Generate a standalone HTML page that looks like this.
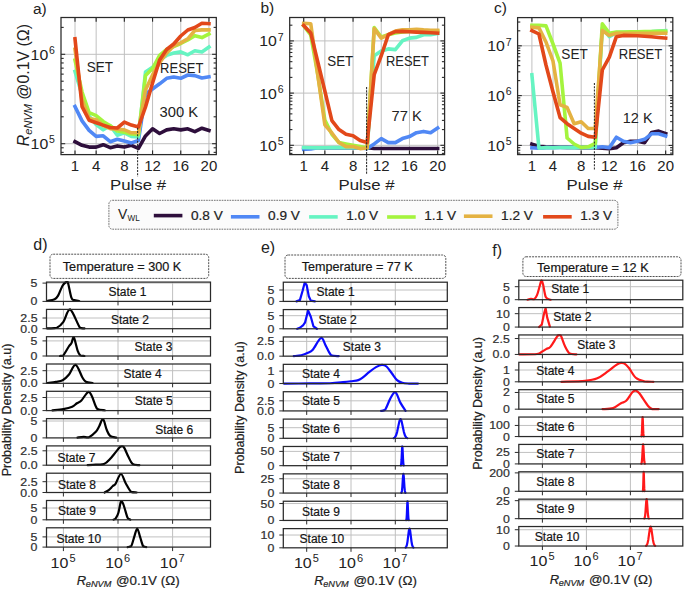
<!DOCTYPE html>
<html><head><meta charset="utf-8"><style>
html,body{margin:0;padding:0;background:#fff;}
svg{display:block;font-family:"Liberation Sans", sans-serif;}
.s{stroke:#222;stroke-width:0.2px;}
</style></head><body>
<svg width="685" height="589" viewBox="0 0 685 589">
<rect x="0" y="0" width="685" height="589" fill="#fff"/>
<g>
<line x1="75.00" y1="17.5" x2="75.00" y2="154.6" stroke="#c0c0c0" stroke-width="1"/>
<line x1="96.15" y1="17.5" x2="96.15" y2="154.6" stroke="#c0c0c0" stroke-width="1"/>
<line x1="124.35" y1="17.5" x2="124.35" y2="154.6" stroke="#c0c0c0" stroke-width="1"/>
<line x1="152.55" y1="17.5" x2="152.55" y2="154.6" stroke="#c0c0c0" stroke-width="1"/>
<line x1="180.75" y1="17.5" x2="180.75" y2="154.6" stroke="#c0c0c0" stroke-width="1"/>
<line x1="208.95" y1="17.5" x2="208.95" y2="154.6" stroke="#c0c0c0" stroke-width="1"/>
<line x1="61.0" y1="143.70" x2="216.3" y2="143.70" stroke="#c0c0c0" stroke-width="1"/>
<line x1="61.0" y1="54.30" x2="216.3" y2="54.30" stroke="#c0c0c0" stroke-width="1"/>
<clipPath id="clipa"><rect x="61.0" y="17.5" width="155.3" height="137.1"/></clipPath>
<g clip-path="url(#clipa)">
<polyline points="75.00,141.70 82.05,145.30 89.10,147.10 96.15,147.10 103.20,144.70 110.25,147.70 117.30,145.90 124.35,147.10 131.40,145.30 138.45,148.30 145.50,135.90 152.55,128.80 159.60,133.50 166.65,129.90 173.70,128.80 180.75,129.90 187.80,128.80 194.85,131.70 201.90,128.20 208.95,130.50" fill="none" stroke="#2e0f3c" stroke-width="3.6" stroke-linejoin="round" stroke-linecap="square"/>
<polyline points="75.00,106.50 82.05,120.90 89.10,130.40 96.15,136.40 103.20,135.80 110.25,141.70 117.30,139.30 124.35,141.10 131.40,142.90 138.45,140.50 145.50,94.00 152.55,89.00 159.60,83.80 166.65,78.30 173.70,77.00 180.75,78.30 187.80,75.00 194.85,75.60 201.90,78.00 208.95,76.80" fill="none" stroke="#5088f5" stroke-width="3.6" stroke-linejoin="round" stroke-linecap="square"/>
<polyline points="75.00,71.40 82.05,95.00 89.10,116.20 96.15,124.50 103.20,129.80 110.25,125.70 117.30,135.20 124.35,132.80 131.40,136.40 138.45,137.00 145.50,72.10 152.55,67.30 159.60,60.00 166.65,55.40 173.70,53.00 180.75,51.90 187.80,54.80 194.85,50.70 201.90,51.90 208.95,47.10" fill="none" stroke="#66f4c2" stroke-width="3.6" stroke-linejoin="round" stroke-linecap="square"/>
<polyline points="75.00,60.10 82.05,92.00 89.10,112.60 96.15,115.60 103.20,121.50 110.25,125.70 117.30,131.00 124.35,132.20 131.40,134.00 138.45,134.60 145.50,75.60 152.55,68.50 159.60,55.40 166.65,49.50 173.70,46.50 180.75,43.50 187.80,40.00 194.85,35.80 201.90,37.60 208.95,34.00" fill="none" stroke="#a4f43e" stroke-width="3.6" stroke-linejoin="round" stroke-linecap="square"/>
<polyline points="75.00,49.40 82.05,100.00 89.10,118.50 96.15,119.70 103.20,125.70 110.25,128.60 117.30,129.20 124.35,129.80 131.40,132.80 138.45,132.80 145.50,90.00 152.55,75.00 159.60,62.60 166.65,53.00 173.70,45.90 180.75,42.90 187.80,38.80 194.85,30.50 201.90,29.90 208.95,29.90" fill="none" stroke="#e4b242" stroke-width="3.6" stroke-linejoin="round" stroke-linecap="square"/>
<polyline points="75.00,38.80 82.05,106.60 89.10,120.30 96.15,122.70 103.20,125.10 110.25,127.50 117.30,128.00 124.35,122.10 131.40,125.10 138.45,126.90 145.50,107.00 152.55,83.00 159.60,60.00 166.65,49.50 173.70,44.00 180.75,36.00 187.80,30.00 194.85,27.50 201.90,23.30 208.95,23.60" fill="none" stroke="#e2481a" stroke-width="3.6" stroke-linejoin="round" stroke-linecap="square"/>
</g>
<line x1="75.00" y1="154.6" x2="75.00" y2="150.4" stroke="#2a2a2a" stroke-width="1.15"/>
<line x1="75.00" y1="17.5" x2="75.00" y2="21.7" stroke="#2a2a2a" stroke-width="1.15"/>
<line x1="96.15" y1="154.6" x2="96.15" y2="150.4" stroke="#2a2a2a" stroke-width="1.15"/>
<line x1="96.15" y1="17.5" x2="96.15" y2="21.7" stroke="#2a2a2a" stroke-width="1.15"/>
<line x1="124.35" y1="154.6" x2="124.35" y2="150.4" stroke="#2a2a2a" stroke-width="1.15"/>
<line x1="124.35" y1="17.5" x2="124.35" y2="21.7" stroke="#2a2a2a" stroke-width="1.15"/>
<line x1="152.55" y1="154.6" x2="152.55" y2="150.4" stroke="#2a2a2a" stroke-width="1.15"/>
<line x1="152.55" y1="17.5" x2="152.55" y2="21.7" stroke="#2a2a2a" stroke-width="1.15"/>
<line x1="180.75" y1="154.6" x2="180.75" y2="150.4" stroke="#2a2a2a" stroke-width="1.15"/>
<line x1="180.75" y1="17.5" x2="180.75" y2="21.7" stroke="#2a2a2a" stroke-width="1.15"/>
<line x1="208.95" y1="154.6" x2="208.95" y2="150.4" stroke="#2a2a2a" stroke-width="1.15"/>
<line x1="208.95" y1="17.5" x2="208.95" y2="21.7" stroke="#2a2a2a" stroke-width="1.15"/>
<line x1="61.0" y1="152.36" x2="63.7" y2="152.36" stroke="#2a2a2a" stroke-width="1.1"/>
<line x1="216.3" y1="152.36" x2="213.60000000000002" y2="152.36" stroke="#2a2a2a" stroke-width="1.1"/>
<line x1="61.0" y1="147.79" x2="63.7" y2="147.79" stroke="#2a2a2a" stroke-width="1.1"/>
<line x1="216.3" y1="147.79" x2="213.60000000000002" y2="147.79" stroke="#2a2a2a" stroke-width="1.1"/>
<line x1="61.0" y1="143.70" x2="65.2" y2="143.70" stroke="#2a2a2a" stroke-width="1.1"/>
<line x1="216.3" y1="143.70" x2="212.10000000000002" y2="143.70" stroke="#2a2a2a" stroke-width="1.1"/>
<line x1="61.0" y1="116.79" x2="63.7" y2="116.79" stroke="#2a2a2a" stroke-width="1.1"/>
<line x1="216.3" y1="116.79" x2="213.60000000000002" y2="116.79" stroke="#2a2a2a" stroke-width="1.1"/>
<line x1="61.0" y1="101.05" x2="63.7" y2="101.05" stroke="#2a2a2a" stroke-width="1.1"/>
<line x1="216.3" y1="101.05" x2="213.60000000000002" y2="101.05" stroke="#2a2a2a" stroke-width="1.1"/>
<line x1="61.0" y1="89.88" x2="63.7" y2="89.88" stroke="#2a2a2a" stroke-width="1.1"/>
<line x1="216.3" y1="89.88" x2="213.60000000000002" y2="89.88" stroke="#2a2a2a" stroke-width="1.1"/>
<line x1="61.0" y1="81.21" x2="63.7" y2="81.21" stroke="#2a2a2a" stroke-width="1.1"/>
<line x1="216.3" y1="81.21" x2="213.60000000000002" y2="81.21" stroke="#2a2a2a" stroke-width="1.1"/>
<line x1="61.0" y1="74.13" x2="63.7" y2="74.13" stroke="#2a2a2a" stroke-width="1.1"/>
<line x1="216.3" y1="74.13" x2="213.60000000000002" y2="74.13" stroke="#2a2a2a" stroke-width="1.1"/>
<line x1="61.0" y1="68.15" x2="63.7" y2="68.15" stroke="#2a2a2a" stroke-width="1.1"/>
<line x1="216.3" y1="68.15" x2="213.60000000000002" y2="68.15" stroke="#2a2a2a" stroke-width="1.1"/>
<line x1="61.0" y1="62.96" x2="63.7" y2="62.96" stroke="#2a2a2a" stroke-width="1.1"/>
<line x1="216.3" y1="62.96" x2="213.60000000000002" y2="62.96" stroke="#2a2a2a" stroke-width="1.1"/>
<line x1="61.0" y1="58.39" x2="63.7" y2="58.39" stroke="#2a2a2a" stroke-width="1.1"/>
<line x1="216.3" y1="58.39" x2="213.60000000000002" y2="58.39" stroke="#2a2a2a" stroke-width="1.1"/>
<line x1="61.0" y1="54.30" x2="65.2" y2="54.30" stroke="#2a2a2a" stroke-width="1.1"/>
<line x1="216.3" y1="54.30" x2="212.10000000000002" y2="54.30" stroke="#2a2a2a" stroke-width="1.1"/>
<line x1="61.0" y1="27.39" x2="63.7" y2="27.39" stroke="#2a2a2a" stroke-width="1.1"/>
<line x1="216.3" y1="27.39" x2="213.60000000000002" y2="27.39" stroke="#2a2a2a" stroke-width="1.1"/>
<rect x="61.0" y="17.5" width="155.30" height="137.10" fill="none" stroke="#2a2a2a" stroke-width="1.25"/>
<text x="75.00" y="171.00" font-size="15" text-anchor="middle" fill="#222" >1</text>
<text x="96.15" y="171.00" font-size="15" text-anchor="middle" fill="#222" >4</text>
<text x="124.35" y="171.00" font-size="15" text-anchor="middle" fill="#222" >8</text>
<text x="152.55" y="171.00" font-size="15" text-anchor="middle" fill="#222" >12</text>
<text x="180.75" y="171.00" font-size="15" text-anchor="middle" fill="#222" >16</text>
<text x="208.95" y="171.00" font-size="15" text-anchor="middle" fill="#222" >20</text>
<text x="30.60" y="149.20" font-size="15" fill="#222"><tspan textLength="17.6" lengthAdjust="spacingAndGlyphs">10</tspan><tspan font-size="10.5" dx="0.9" dy="-5.8">5</tspan></text>
<text x="30.60" y="59.80" font-size="15" fill="#222"><tspan textLength="17.6" lengthAdjust="spacingAndGlyphs">10</tspan><tspan font-size="10.5" dx="0.9" dy="-5.8">6</tspan></text>
<text x="138.05" y="190.30" font-size="15" text-anchor="middle" fill="#222" textLength="56" lengthAdjust="spacingAndGlyphs">Pulse #</text>
</g>
<g>
<line x1="303.70" y1="17.5" x2="303.70" y2="154.6" stroke="#c0c0c0" stroke-width="1"/>
<line x1="324.85" y1="17.5" x2="324.85" y2="154.6" stroke="#c0c0c0" stroke-width="1"/>
<line x1="353.05" y1="17.5" x2="353.05" y2="154.6" stroke="#c0c0c0" stroke-width="1"/>
<line x1="381.25" y1="17.5" x2="381.25" y2="154.6" stroke="#c0c0c0" stroke-width="1"/>
<line x1="409.45" y1="17.5" x2="409.45" y2="154.6" stroke="#c0c0c0" stroke-width="1"/>
<line x1="437.65" y1="17.5" x2="437.65" y2="154.6" stroke="#c0c0c0" stroke-width="1"/>
<line x1="289.7" y1="145.30" x2="444.6" y2="145.30" stroke="#c0c0c0" stroke-width="1"/>
<line x1="289.7" y1="93.10" x2="444.6" y2="93.10" stroke="#c0c0c0" stroke-width="1"/>
<line x1="289.7" y1="40.90" x2="444.6" y2="40.90" stroke="#c0c0c0" stroke-width="1"/>
<clipPath id="clipb"><rect x="289.7" y="17.5" width="154.90000000000003" height="137.1"/></clipPath>
<g clip-path="url(#clipb)">
<polyline points="303.70,147.70 310.75,147.70 317.80,147.70 324.85,147.70 331.90,147.70 338.95,147.70 346.00,147.70 353.05,147.70 360.10,147.70 367.15,147.70 374.20,148.50 381.25,148.50 388.30,148.50 395.35,148.50 402.40,148.50 409.45,148.50 416.50,148.50 423.55,148.50 430.60,148.50 437.65,148.50" fill="none" stroke="#2e0f3c" stroke-width="3.6" stroke-linejoin="round" stroke-linecap="square"/>
<polyline points="303.70,149.40 310.75,149.00 317.80,147.80 324.85,147.80 331.90,147.80 338.95,147.80 346.00,147.80 353.05,147.80 360.10,147.80 367.15,148.60 374.20,143.90 381.25,138.60 388.30,142.60 395.35,142.60 402.40,138.60 409.45,136.60 416.50,132.70 423.55,131.40 430.60,132.70 437.65,128.10" fill="none" stroke="#5088f5" stroke-width="3.6" stroke-linejoin="round" stroke-linecap="square"/>
<polyline points="303.70,147.50 310.75,147.70 317.80,147.90 324.85,147.70 331.90,147.50 338.95,147.60 346.00,147.70 353.05,147.80 360.10,147.70 367.15,147.90 374.20,55.70 381.25,51.00 388.30,48.90 395.35,49.60 402.40,40.80 409.45,38.10 416.50,37.40 423.55,34.70 430.60,34.80 437.65,33.60" fill="none" stroke="#66f4c2" stroke-width="3.6" stroke-linejoin="round" stroke-linecap="square"/>
<polyline points="303.70,25.90 310.75,35.00 317.80,75.00 324.85,120.00 331.90,134.30 338.95,142.50 346.00,143.90 353.05,145.20 360.10,146.60 367.15,148.00 374.20,27.60 381.25,37.00 388.30,34.70 395.35,33.00 402.40,32.00 409.45,31.50 416.50,31.30 423.55,31.00 430.60,31.00 437.65,31.00" fill="none" stroke="#a4f43e" stroke-width="3.6" stroke-linejoin="round" stroke-linecap="square"/>
<polyline points="303.70,23.40 310.75,23.70 317.80,75.00 324.85,124.80 331.90,133.00 338.95,142.50 346.00,146.60 353.05,146.60 360.10,148.60 367.15,148.00 374.20,28.60 381.25,38.10 388.30,34.70 395.35,31.00 402.40,29.90 409.45,29.70 416.50,29.20 423.55,29.90 430.60,30.20 437.65,30.20" fill="none" stroke="#e4b242" stroke-width="3.6" stroke-linejoin="round" stroke-linecap="square"/>
<polyline points="303.70,25.60 310.75,33.00 317.80,62.00 324.85,91.00 331.90,120.70 338.95,129.60 346.00,134.30 353.05,135.70 360.10,140.50 367.15,142.50 374.20,74.70 381.25,55.70 388.30,34.70 395.35,31.60 402.40,31.40 409.45,31.70 416.50,32.10 423.55,32.40 430.60,32.70 437.65,33.10" fill="none" stroke="#e2481a" stroke-width="3.6" stroke-linejoin="round" stroke-linecap="square"/>
</g>
<line x1="303.70" y1="154.6" x2="303.70" y2="150.4" stroke="#2a2a2a" stroke-width="1.15"/>
<line x1="303.70" y1="17.5" x2="303.70" y2="21.7" stroke="#2a2a2a" stroke-width="1.15"/>
<line x1="324.85" y1="154.6" x2="324.85" y2="150.4" stroke="#2a2a2a" stroke-width="1.15"/>
<line x1="324.85" y1="17.5" x2="324.85" y2="21.7" stroke="#2a2a2a" stroke-width="1.15"/>
<line x1="353.05" y1="154.6" x2="353.05" y2="150.4" stroke="#2a2a2a" stroke-width="1.15"/>
<line x1="353.05" y1="17.5" x2="353.05" y2="21.7" stroke="#2a2a2a" stroke-width="1.15"/>
<line x1="381.25" y1="154.6" x2="381.25" y2="150.4" stroke="#2a2a2a" stroke-width="1.15"/>
<line x1="381.25" y1="17.5" x2="381.25" y2="21.7" stroke="#2a2a2a" stroke-width="1.15"/>
<line x1="409.45" y1="154.6" x2="409.45" y2="150.4" stroke="#2a2a2a" stroke-width="1.15"/>
<line x1="409.45" y1="17.5" x2="409.45" y2="21.7" stroke="#2a2a2a" stroke-width="1.15"/>
<line x1="437.65" y1="154.6" x2="437.65" y2="150.4" stroke="#2a2a2a" stroke-width="1.15"/>
<line x1="437.65" y1="17.5" x2="437.65" y2="21.7" stroke="#2a2a2a" stroke-width="1.15"/>
<line x1="289.7" y1="153.39" x2="292.4" y2="153.39" stroke="#2a2a2a" stroke-width="1.1"/>
<line x1="444.6" y1="153.39" x2="441.90000000000003" y2="153.39" stroke="#2a2a2a" stroke-width="1.1"/>
<line x1="289.7" y1="150.36" x2="292.4" y2="150.36" stroke="#2a2a2a" stroke-width="1.1"/>
<line x1="444.6" y1="150.36" x2="441.90000000000003" y2="150.36" stroke="#2a2a2a" stroke-width="1.1"/>
<line x1="289.7" y1="147.69" x2="292.4" y2="147.69" stroke="#2a2a2a" stroke-width="1.1"/>
<line x1="444.6" y1="147.69" x2="441.90000000000003" y2="147.69" stroke="#2a2a2a" stroke-width="1.1"/>
<line x1="289.7" y1="145.30" x2="293.9" y2="145.30" stroke="#2a2a2a" stroke-width="1.1"/>
<line x1="444.6" y1="145.30" x2="440.40000000000003" y2="145.30" stroke="#2a2a2a" stroke-width="1.1"/>
<line x1="289.7" y1="129.59" x2="292.4" y2="129.59" stroke="#2a2a2a" stroke-width="1.1"/>
<line x1="444.6" y1="129.59" x2="441.90000000000003" y2="129.59" stroke="#2a2a2a" stroke-width="1.1"/>
<line x1="289.7" y1="120.39" x2="292.4" y2="120.39" stroke="#2a2a2a" stroke-width="1.1"/>
<line x1="444.6" y1="120.39" x2="441.90000000000003" y2="120.39" stroke="#2a2a2a" stroke-width="1.1"/>
<line x1="289.7" y1="113.87" x2="292.4" y2="113.87" stroke="#2a2a2a" stroke-width="1.1"/>
<line x1="444.6" y1="113.87" x2="441.90000000000003" y2="113.87" stroke="#2a2a2a" stroke-width="1.1"/>
<line x1="289.7" y1="108.81" x2="292.4" y2="108.81" stroke="#2a2a2a" stroke-width="1.1"/>
<line x1="444.6" y1="108.81" x2="441.90000000000003" y2="108.81" stroke="#2a2a2a" stroke-width="1.1"/>
<line x1="289.7" y1="104.68" x2="292.4" y2="104.68" stroke="#2a2a2a" stroke-width="1.1"/>
<line x1="444.6" y1="104.68" x2="441.90000000000003" y2="104.68" stroke="#2a2a2a" stroke-width="1.1"/>
<line x1="289.7" y1="101.19" x2="292.4" y2="101.19" stroke="#2a2a2a" stroke-width="1.1"/>
<line x1="444.6" y1="101.19" x2="441.90000000000003" y2="101.19" stroke="#2a2a2a" stroke-width="1.1"/>
<line x1="289.7" y1="98.16" x2="292.4" y2="98.16" stroke="#2a2a2a" stroke-width="1.1"/>
<line x1="444.6" y1="98.16" x2="441.90000000000003" y2="98.16" stroke="#2a2a2a" stroke-width="1.1"/>
<line x1="289.7" y1="95.49" x2="292.4" y2="95.49" stroke="#2a2a2a" stroke-width="1.1"/>
<line x1="444.6" y1="95.49" x2="441.90000000000003" y2="95.49" stroke="#2a2a2a" stroke-width="1.1"/>
<line x1="289.7" y1="93.10" x2="293.9" y2="93.10" stroke="#2a2a2a" stroke-width="1.1"/>
<line x1="444.6" y1="93.10" x2="440.40000000000003" y2="93.10" stroke="#2a2a2a" stroke-width="1.1"/>
<line x1="289.7" y1="77.39" x2="292.4" y2="77.39" stroke="#2a2a2a" stroke-width="1.1"/>
<line x1="444.6" y1="77.39" x2="441.90000000000003" y2="77.39" stroke="#2a2a2a" stroke-width="1.1"/>
<line x1="289.7" y1="68.19" x2="292.4" y2="68.19" stroke="#2a2a2a" stroke-width="1.1"/>
<line x1="444.6" y1="68.19" x2="441.90000000000003" y2="68.19" stroke="#2a2a2a" stroke-width="1.1"/>
<line x1="289.7" y1="61.67" x2="292.4" y2="61.67" stroke="#2a2a2a" stroke-width="1.1"/>
<line x1="444.6" y1="61.67" x2="441.90000000000003" y2="61.67" stroke="#2a2a2a" stroke-width="1.1"/>
<line x1="289.7" y1="56.61" x2="292.4" y2="56.61" stroke="#2a2a2a" stroke-width="1.1"/>
<line x1="444.6" y1="56.61" x2="441.90000000000003" y2="56.61" stroke="#2a2a2a" stroke-width="1.1"/>
<line x1="289.7" y1="52.48" x2="292.4" y2="52.48" stroke="#2a2a2a" stroke-width="1.1"/>
<line x1="444.6" y1="52.48" x2="441.90000000000003" y2="52.48" stroke="#2a2a2a" stroke-width="1.1"/>
<line x1="289.7" y1="48.99" x2="292.4" y2="48.99" stroke="#2a2a2a" stroke-width="1.1"/>
<line x1="444.6" y1="48.99" x2="441.90000000000003" y2="48.99" stroke="#2a2a2a" stroke-width="1.1"/>
<line x1="289.7" y1="45.96" x2="292.4" y2="45.96" stroke="#2a2a2a" stroke-width="1.1"/>
<line x1="444.6" y1="45.96" x2="441.90000000000003" y2="45.96" stroke="#2a2a2a" stroke-width="1.1"/>
<line x1="289.7" y1="43.29" x2="292.4" y2="43.29" stroke="#2a2a2a" stroke-width="1.1"/>
<line x1="444.6" y1="43.29" x2="441.90000000000003" y2="43.29" stroke="#2a2a2a" stroke-width="1.1"/>
<line x1="289.7" y1="40.90" x2="293.9" y2="40.90" stroke="#2a2a2a" stroke-width="1.1"/>
<line x1="444.6" y1="40.90" x2="440.40000000000003" y2="40.90" stroke="#2a2a2a" stroke-width="1.1"/>
<line x1="289.7" y1="25.19" x2="292.4" y2="25.19" stroke="#2a2a2a" stroke-width="1.1"/>
<line x1="444.6" y1="25.19" x2="441.90000000000003" y2="25.19" stroke="#2a2a2a" stroke-width="1.1"/>
<rect x="289.7" y="17.5" width="154.90" height="137.10" fill="none" stroke="#2a2a2a" stroke-width="1.25"/>
<text x="303.70" y="171.00" font-size="15" text-anchor="middle" fill="#222" >1</text>
<text x="324.85" y="171.00" font-size="15" text-anchor="middle" fill="#222" >4</text>
<text x="353.05" y="171.00" font-size="15" text-anchor="middle" fill="#222" >8</text>
<text x="381.25" y="171.00" font-size="15" text-anchor="middle" fill="#222" >12</text>
<text x="409.45" y="171.00" font-size="15" text-anchor="middle" fill="#222" >16</text>
<text x="437.65" y="171.00" font-size="15" text-anchor="middle" fill="#222" >20</text>
<text x="259.30" y="150.80" font-size="15" fill="#222"><tspan textLength="17.6" lengthAdjust="spacingAndGlyphs">10</tspan><tspan font-size="10.5" dx="0.9" dy="-5.8">5</tspan></text>
<text x="259.30" y="98.60" font-size="15" fill="#222"><tspan textLength="17.6" lengthAdjust="spacingAndGlyphs">10</tspan><tspan font-size="10.5" dx="0.9" dy="-5.8">6</tspan></text>
<text x="259.30" y="46.40" font-size="15" fill="#222"><tspan textLength="17.6" lengthAdjust="spacingAndGlyphs">10</tspan><tspan font-size="10.5" dx="0.9" dy="-5.8">7</tspan></text>
<text x="366.55" y="190.30" font-size="15" text-anchor="middle" fill="#222" textLength="56" lengthAdjust="spacingAndGlyphs">Pulse #</text>
</g>
<g>
<line x1="531.90" y1="17.6" x2="531.90" y2="154.6" stroke="#c0c0c0" stroke-width="1"/>
<line x1="553.02" y1="17.6" x2="553.02" y2="154.6" stroke="#c0c0c0" stroke-width="1"/>
<line x1="581.18" y1="17.6" x2="581.18" y2="154.6" stroke="#c0c0c0" stroke-width="1"/>
<line x1="609.34" y1="17.6" x2="609.34" y2="154.6" stroke="#c0c0c0" stroke-width="1"/>
<line x1="637.50" y1="17.6" x2="637.50" y2="154.6" stroke="#c0c0c0" stroke-width="1"/>
<line x1="665.66" y1="17.6" x2="665.66" y2="154.6" stroke="#c0c0c0" stroke-width="1"/>
<line x1="517.6" y1="145.40" x2="672.8" y2="145.40" stroke="#c0c0c0" stroke-width="1"/>
<line x1="517.6" y1="95.60" x2="672.8" y2="95.60" stroke="#c0c0c0" stroke-width="1"/>
<line x1="517.6" y1="45.80" x2="672.8" y2="45.80" stroke="#c0c0c0" stroke-width="1"/>
<clipPath id="clipc"><rect x="517.6" y="17.6" width="155.19999999999993" height="137.0"/></clipPath>
<g clip-path="url(#clipc)">
<polyline points="531.90,144.10 538.94,146.20 545.98,146.90 553.02,147.00 560.06,147.20 567.10,147.40 574.14,147.50 581.18,147.60 588.22,147.60 595.26,147.60 602.30,148.10 609.34,148.80 616.38,147.70 623.42,142.70 630.46,141.30 637.50,141.30 644.54,142.70 651.58,132.50 658.62,131.10 665.66,133.60" fill="none" stroke="#2e0f3c" stroke-width="3.6" stroke-linejoin="round" stroke-linecap="square"/>
<polyline points="531.90,147.80 538.94,148.30 545.98,147.60 553.02,147.60 560.06,147.50 567.10,147.50 574.14,147.50 581.18,147.50 588.22,147.50 595.26,147.50 602.30,146.70 609.34,147.70 616.38,137.20 623.42,141.30 630.46,142.70 637.50,141.30 644.54,139.30 651.58,133.80 658.62,133.80 665.66,135.90" fill="none" stroke="#5088f5" stroke-width="3.6" stroke-linejoin="round" stroke-linecap="square"/>
<polyline points="531.90,74.80 538.94,148.20 545.98,147.50 553.02,147.80 560.06,147.50 567.10,147.50 574.14,147.60 581.18,147.50 588.22,147.50 595.26,147.50 602.30,28.00 609.34,36.70 616.38,32.60 623.42,32.40 630.46,32.20 637.50,32.00 644.54,31.80 651.58,31.50 658.62,31.00 665.66,30.60" fill="none" stroke="#66f4c2" stroke-width="3.6" stroke-linejoin="round" stroke-linecap="square"/>
<polyline points="531.90,25.20 538.94,25.20 545.98,25.90 553.02,44.00 560.06,63.20 567.10,138.00 574.14,144.00 581.18,147.50 588.22,146.80 595.26,143.40 602.30,23.80 609.34,33.30 616.38,32.00 623.42,32.00 630.46,31.80 637.50,31.70 644.54,31.60 651.58,31.50 658.62,31.40 665.66,31.30" fill="none" stroke="#a4f43e" stroke-width="3.6" stroke-linejoin="round" stroke-linecap="square"/>
<polyline points="531.90,27.20 538.94,27.90 545.98,42.00 553.02,61.20 560.06,104.70 567.10,107.40 574.14,123.70 581.18,121.70 588.22,128.50 595.26,128.50 602.30,30.60 609.34,35.40 616.38,33.30 623.42,33.30 630.46,33.30 637.50,33.30 644.54,33.30 651.58,33.30 658.62,33.30 665.66,33.30" fill="none" stroke="#e4b242" stroke-width="3.6" stroke-linejoin="round" stroke-linecap="square"/>
<polyline points="531.90,30.60 538.94,34.00 545.98,65.00 553.02,92.00 560.06,117.60 567.10,123.70 574.14,128.50 581.18,133.20 588.22,136.40 595.26,137.30 602.30,70.00 609.34,57.10 616.38,36.70 623.42,35.40 630.46,35.60 637.50,35.80 644.54,36.20 651.58,36.80 658.62,37.50 665.66,38.10" fill="none" stroke="#e2481a" stroke-width="3.6" stroke-linejoin="round" stroke-linecap="square"/>
</g>
<line x1="531.90" y1="154.6" x2="531.90" y2="150.4" stroke="#2a2a2a" stroke-width="1.15"/>
<line x1="531.90" y1="17.6" x2="531.90" y2="21.8" stroke="#2a2a2a" stroke-width="1.15"/>
<line x1="553.02" y1="154.6" x2="553.02" y2="150.4" stroke="#2a2a2a" stroke-width="1.15"/>
<line x1="553.02" y1="17.6" x2="553.02" y2="21.8" stroke="#2a2a2a" stroke-width="1.15"/>
<line x1="581.18" y1="154.6" x2="581.18" y2="150.4" stroke="#2a2a2a" stroke-width="1.15"/>
<line x1="581.18" y1="17.6" x2="581.18" y2="21.8" stroke="#2a2a2a" stroke-width="1.15"/>
<line x1="609.34" y1="154.6" x2="609.34" y2="150.4" stroke="#2a2a2a" stroke-width="1.15"/>
<line x1="609.34" y1="17.6" x2="609.34" y2="21.8" stroke="#2a2a2a" stroke-width="1.15"/>
<line x1="637.50" y1="154.6" x2="637.50" y2="150.4" stroke="#2a2a2a" stroke-width="1.15"/>
<line x1="637.50" y1="17.6" x2="637.50" y2="21.8" stroke="#2a2a2a" stroke-width="1.15"/>
<line x1="665.66" y1="154.6" x2="665.66" y2="150.4" stroke="#2a2a2a" stroke-width="1.15"/>
<line x1="665.66" y1="17.6" x2="665.66" y2="21.8" stroke="#2a2a2a" stroke-width="1.15"/>
<line x1="517.6" y1="153.11" x2="520.3000000000001" y2="153.11" stroke="#2a2a2a" stroke-width="1.1"/>
<line x1="672.8" y1="153.11" x2="670.0999999999999" y2="153.11" stroke="#2a2a2a" stroke-width="1.1"/>
<line x1="517.6" y1="150.23" x2="520.3000000000001" y2="150.23" stroke="#2a2a2a" stroke-width="1.1"/>
<line x1="672.8" y1="150.23" x2="670.0999999999999" y2="150.23" stroke="#2a2a2a" stroke-width="1.1"/>
<line x1="517.6" y1="147.68" x2="520.3000000000001" y2="147.68" stroke="#2a2a2a" stroke-width="1.1"/>
<line x1="672.8" y1="147.68" x2="670.0999999999999" y2="147.68" stroke="#2a2a2a" stroke-width="1.1"/>
<line x1="517.6" y1="145.40" x2="521.8000000000001" y2="145.40" stroke="#2a2a2a" stroke-width="1.1"/>
<line x1="672.8" y1="145.40" x2="668.5999999999999" y2="145.40" stroke="#2a2a2a" stroke-width="1.1"/>
<line x1="517.6" y1="130.41" x2="520.3000000000001" y2="130.41" stroke="#2a2a2a" stroke-width="1.1"/>
<line x1="672.8" y1="130.41" x2="670.0999999999999" y2="130.41" stroke="#2a2a2a" stroke-width="1.1"/>
<line x1="517.6" y1="121.64" x2="520.3000000000001" y2="121.64" stroke="#2a2a2a" stroke-width="1.1"/>
<line x1="672.8" y1="121.64" x2="670.0999999999999" y2="121.64" stroke="#2a2a2a" stroke-width="1.1"/>
<line x1="517.6" y1="115.42" x2="520.3000000000001" y2="115.42" stroke="#2a2a2a" stroke-width="1.1"/>
<line x1="672.8" y1="115.42" x2="670.0999999999999" y2="115.42" stroke="#2a2a2a" stroke-width="1.1"/>
<line x1="517.6" y1="110.59" x2="520.3000000000001" y2="110.59" stroke="#2a2a2a" stroke-width="1.1"/>
<line x1="672.8" y1="110.59" x2="670.0999999999999" y2="110.59" stroke="#2a2a2a" stroke-width="1.1"/>
<line x1="517.6" y1="106.65" x2="520.3000000000001" y2="106.65" stroke="#2a2a2a" stroke-width="1.1"/>
<line x1="672.8" y1="106.65" x2="670.0999999999999" y2="106.65" stroke="#2a2a2a" stroke-width="1.1"/>
<line x1="517.6" y1="103.31" x2="520.3000000000001" y2="103.31" stroke="#2a2a2a" stroke-width="1.1"/>
<line x1="672.8" y1="103.31" x2="670.0999999999999" y2="103.31" stroke="#2a2a2a" stroke-width="1.1"/>
<line x1="517.6" y1="100.43" x2="520.3000000000001" y2="100.43" stroke="#2a2a2a" stroke-width="1.1"/>
<line x1="672.8" y1="100.43" x2="670.0999999999999" y2="100.43" stroke="#2a2a2a" stroke-width="1.1"/>
<line x1="517.6" y1="97.88" x2="520.3000000000001" y2="97.88" stroke="#2a2a2a" stroke-width="1.1"/>
<line x1="672.8" y1="97.88" x2="670.0999999999999" y2="97.88" stroke="#2a2a2a" stroke-width="1.1"/>
<line x1="517.6" y1="95.60" x2="521.8000000000001" y2="95.60" stroke="#2a2a2a" stroke-width="1.1"/>
<line x1="672.8" y1="95.60" x2="668.5999999999999" y2="95.60" stroke="#2a2a2a" stroke-width="1.1"/>
<line x1="517.6" y1="80.61" x2="520.3000000000001" y2="80.61" stroke="#2a2a2a" stroke-width="1.1"/>
<line x1="672.8" y1="80.61" x2="670.0999999999999" y2="80.61" stroke="#2a2a2a" stroke-width="1.1"/>
<line x1="517.6" y1="71.84" x2="520.3000000000001" y2="71.84" stroke="#2a2a2a" stroke-width="1.1"/>
<line x1="672.8" y1="71.84" x2="670.0999999999999" y2="71.84" stroke="#2a2a2a" stroke-width="1.1"/>
<line x1="517.6" y1="65.62" x2="520.3000000000001" y2="65.62" stroke="#2a2a2a" stroke-width="1.1"/>
<line x1="672.8" y1="65.62" x2="670.0999999999999" y2="65.62" stroke="#2a2a2a" stroke-width="1.1"/>
<line x1="517.6" y1="60.79" x2="520.3000000000001" y2="60.79" stroke="#2a2a2a" stroke-width="1.1"/>
<line x1="672.8" y1="60.79" x2="670.0999999999999" y2="60.79" stroke="#2a2a2a" stroke-width="1.1"/>
<line x1="517.6" y1="56.85" x2="520.3000000000001" y2="56.85" stroke="#2a2a2a" stroke-width="1.1"/>
<line x1="672.8" y1="56.85" x2="670.0999999999999" y2="56.85" stroke="#2a2a2a" stroke-width="1.1"/>
<line x1="517.6" y1="53.51" x2="520.3000000000001" y2="53.51" stroke="#2a2a2a" stroke-width="1.1"/>
<line x1="672.8" y1="53.51" x2="670.0999999999999" y2="53.51" stroke="#2a2a2a" stroke-width="1.1"/>
<line x1="517.6" y1="50.63" x2="520.3000000000001" y2="50.63" stroke="#2a2a2a" stroke-width="1.1"/>
<line x1="672.8" y1="50.63" x2="670.0999999999999" y2="50.63" stroke="#2a2a2a" stroke-width="1.1"/>
<line x1="517.6" y1="48.08" x2="520.3000000000001" y2="48.08" stroke="#2a2a2a" stroke-width="1.1"/>
<line x1="672.8" y1="48.08" x2="670.0999999999999" y2="48.08" stroke="#2a2a2a" stroke-width="1.1"/>
<line x1="517.6" y1="45.80" x2="521.8000000000001" y2="45.80" stroke="#2a2a2a" stroke-width="1.1"/>
<line x1="672.8" y1="45.80" x2="668.5999999999999" y2="45.80" stroke="#2a2a2a" stroke-width="1.1"/>
<line x1="517.6" y1="30.81" x2="520.3000000000001" y2="30.81" stroke="#2a2a2a" stroke-width="1.1"/>
<line x1="672.8" y1="30.81" x2="670.0999999999999" y2="30.81" stroke="#2a2a2a" stroke-width="1.1"/>
<line x1="517.6" y1="22.04" x2="520.3000000000001" y2="22.04" stroke="#2a2a2a" stroke-width="1.1"/>
<line x1="672.8" y1="22.04" x2="670.0999999999999" y2="22.04" stroke="#2a2a2a" stroke-width="1.1"/>
<rect x="517.6" y="17.6" width="155.20" height="137.00" fill="none" stroke="#2a2a2a" stroke-width="1.25"/>
<text x="531.90" y="171.00" font-size="15" text-anchor="middle" fill="#222" >1</text>
<text x="553.02" y="171.00" font-size="15" text-anchor="middle" fill="#222" >4</text>
<text x="581.18" y="171.00" font-size="15" text-anchor="middle" fill="#222" >8</text>
<text x="609.34" y="171.00" font-size="15" text-anchor="middle" fill="#222" >12</text>
<text x="637.50" y="171.00" font-size="15" text-anchor="middle" fill="#222" >16</text>
<text x="665.66" y="171.00" font-size="15" text-anchor="middle" fill="#222" >20</text>
<text x="487.20" y="150.90" font-size="15" fill="#222"><tspan textLength="17.6" lengthAdjust="spacingAndGlyphs">10</tspan><tspan font-size="10.5" dx="0.9" dy="-5.8">5</tspan></text>
<text x="487.20" y="101.10" font-size="15" fill="#222"><tspan textLength="17.6" lengthAdjust="spacingAndGlyphs">10</tspan><tspan font-size="10.5" dx="0.9" dy="-5.8">6</tspan></text>
<text x="487.20" y="51.30" font-size="15" fill="#222"><tspan textLength="17.6" lengthAdjust="spacingAndGlyphs">10</tspan><tspan font-size="10.5" dx="0.9" dy="-5.8">7</tspan></text>
<text x="594.60" y="190.30" font-size="15" text-anchor="middle" fill="#222" textLength="56" lengthAdjust="spacingAndGlyphs">Pulse #</text>
</g>
<line x1="137.6" y1="127.7" x2="137.6" y2="176.7" stroke="#2a2a2a" stroke-width="1.05" stroke-dasharray="2.1,1.15"/>
<line x1="366.6" y1="87.1" x2="366.6" y2="174.1" stroke="#2a2a2a" stroke-width="1.05" stroke-dasharray="2.1,1.15"/>
<line x1="594.4" y1="83.0" x2="594.4" y2="170.5" stroke="#2a2a2a" stroke-width="1.05" stroke-dasharray="2.1,1.15"/>
<text x="86.70" y="72.00" font-size="15.5" text-anchor="start" fill="#222" textLength="26.3" lengthAdjust="spacingAndGlyphs">SET</text>
<text x="160.10" y="72.70" font-size="15.5" text-anchor="start" fill="#222" textLength="43.3" lengthAdjust="spacingAndGlyphs">RESET</text>
<text x="159.60" y="116.70" font-size="15" text-anchor="start" fill="#222" textLength="38.6" lengthAdjust="spacingAndGlyphs">300 K</text>
<text x="327.30" y="65.50" font-size="15.5" text-anchor="start" fill="#222" textLength="26" lengthAdjust="spacingAndGlyphs">SET</text>
<text x="386.00" y="66.30" font-size="15.5" text-anchor="start" fill="#222" textLength="43" lengthAdjust="spacingAndGlyphs">RESET</text>
<text x="391.60" y="120.90" font-size="15" text-anchor="start" fill="#222" textLength="30.3" lengthAdjust="spacingAndGlyphs">77 K</text>
<text x="561.30" y="58.80" font-size="15.5" text-anchor="start" fill="#222" textLength="26.5" lengthAdjust="spacingAndGlyphs">SET</text>
<text x="618.70" y="58.70" font-size="15.5" text-anchor="start" fill="#222" textLength="43.6" lengthAdjust="spacingAndGlyphs">RESET</text>
<text x="622.80" y="122.70" font-size="15" text-anchor="start" fill="#222" textLength="29.8" lengthAdjust="spacingAndGlyphs">12 K</text>
<text x="33.00" y="14.30" font-size="15.5" text-anchor="start" fill="#222" >a)</text>
<text x="260.50" y="12.80" font-size="15.5" text-anchor="start" fill="#222" >b)</text>
<text x="494.00" y="12.80" font-size="15.5" text-anchor="start" fill="#222" >c)</text>
<text transform="translate(29.0,85.1) rotate(-90)" font-size="15.9" text-anchor="middle" fill="#222"><tspan font-style="italic">R</tspan><tspan font-style="italic" font-size="11" dy="3">eNVM</tspan><tspan dy="-3"> @0.1V (Ω)</tspan></text>
<rect x="108.9" y="200.3" width="509.0" height="28.9" rx="3.6" ry="3.6" fill="#fbfbfb" stroke="#6a6a6a" stroke-width="0.95" stroke-dasharray="1.7,0.9"/>
<text x="118" y="219.4" font-size="14.5" fill="#222"><tspan textLength="9.3" lengthAdjust="spacingAndGlyphs">V</tspan><tspan font-size="9.6" dx="0.2" dy="1.6" textLength="12.2" lengthAdjust="spacingAndGlyphs">WL</tspan></text>
<line x1="153.8" y1="215.6" x2="182.4" y2="215.6" stroke="#2e0f3c" stroke-width="3.6"/>
<text class="s" x="191.00" y="219.90" font-size="12.6" text-anchor="start" fill="#222" textLength="31.8" lengthAdjust="spacingAndGlyphs">0.8 V</text>
<line x1="230.9" y1="216.8" x2="259.5" y2="216.8" stroke="#5088f5" stroke-width="3.6"/>
<text class="s" x="268.10" y="219.90" font-size="12.6" text-anchor="start" fill="#222" textLength="31.8" lengthAdjust="spacingAndGlyphs">0.9 V</text>
<line x1="309.1" y1="216.9" x2="337.70000000000005" y2="216.9" stroke="#66f4c2" stroke-width="3.6"/>
<text class="s" x="346.30" y="219.90" font-size="12.6" text-anchor="start" fill="#222" textLength="31.8" lengthAdjust="spacingAndGlyphs">1.0 V</text>
<line x1="387.1" y1="217.0" x2="415.70000000000005" y2="217.0" stroke="#a4f43e" stroke-width="3.6"/>
<text class="s" x="424.30" y="219.90" font-size="12.6" text-anchor="start" fill="#222" textLength="31.8" lengthAdjust="spacingAndGlyphs">1.1 V</text>
<line x1="463.9" y1="216.2" x2="492.5" y2="216.2" stroke="#e4b242" stroke-width="3.6"/>
<text class="s" x="501.10" y="219.90" font-size="12.6" text-anchor="start" fill="#222" textLength="31.8" lengthAdjust="spacingAndGlyphs">1.2 V</text>
<line x1="543.1" y1="216.8" x2="571.7" y2="216.8" stroke="#e2481a" stroke-width="3.6"/>
<text class="s" x="580.30" y="219.90" font-size="12.6" text-anchor="start" fill="#222" textLength="31.8" lengthAdjust="spacingAndGlyphs">1.3 V</text>
<line x1="63.40" y1="282.10" x2="63.40" y2="301.40" stroke="#c0c0c0" stroke-width="1"/>
<line x1="118.00" y1="282.10" x2="118.00" y2="301.40" stroke="#c0c0c0" stroke-width="1"/>
<line x1="172.60" y1="282.10" x2="172.60" y2="301.40" stroke="#c0c0c0" stroke-width="1"/>
<line x1="46.5" y1="283.10" x2="210.5" y2="283.10" stroke="#c0c0c0" stroke-width="1"/>
<path d="M47.20,300.99 C48.43,300.70 52.78,300.13 54.60,299.24 C56.42,298.35 56.78,297.91 58.10,295.65 C59.42,293.39 61.18,287.95 62.50,285.69 C63.82,283.43 65.12,282.70 66.00,282.10 C66.88,282.10 66.92,282.10 67.80,282.10 C68.68,284.65 70.28,294.40 71.30,297.40 C72.32,300.39 72.58,299.47 73.90,300.07 C75.22,300.67 78.32,300.84 79.20,300.99" fill="none" stroke="#000000" stroke-width="2.2" stroke-linejoin="round" stroke-linecap="round"/>
<rect x="46.5" y="282.10" width="164.00" height="19.30" fill="none" stroke="#2a2a2a" stroke-width="1.25"/>
<line x1="42.5" y1="283.10" x2="46.5" y2="283.10" stroke="#2a2a2a" stroke-width="1"/>
<line x1="42.5" y1="301.40" x2="46.5" y2="301.40" stroke="#2a2a2a" stroke-width="1"/>
<line x1="63.40" y1="301.40" x2="63.40" y2="305.40" stroke="#2a2a2a" stroke-width="1"/>
<line x1="118.00" y1="301.40" x2="118.00" y2="305.40" stroke="#2a2a2a" stroke-width="1"/>
<line x1="172.60" y1="301.40" x2="172.60" y2="305.40" stroke="#2a2a2a" stroke-width="1"/>
<text class="s" x="37.50" y="287.10" font-size="11" text-anchor="end" fill="#333" textLength="6.87" lengthAdjust="spacingAndGlyphs">5</text>
<text class="s" x="37.50" y="305.40" font-size="11" text-anchor="end" fill="#333" textLength="6.87" lengthAdjust="spacingAndGlyphs">0</text>
<text class="s" x="108.50" y="296.30" font-size="12" text-anchor="start" fill="#111" >State 1</text>
<line x1="63.40" y1="309.40" x2="63.40" y2="328.70" stroke="#c0c0c0" stroke-width="1"/>
<line x1="118.00" y1="309.40" x2="118.00" y2="328.70" stroke="#c0c0c0" stroke-width="1"/>
<line x1="172.60" y1="309.40" x2="172.60" y2="328.70" stroke="#c0c0c0" stroke-width="1"/>
<line x1="46.5" y1="318.00" x2="210.5" y2="318.00" stroke="#c0c0c0" stroke-width="1"/>
<path d="M47.20,328.29 C48.80,328.21 54.10,328.70 56.80,327.78 C59.50,326.72 61.20,324.98 63.40,321.92 C65.60,318.86 67.23,309.40 70.00,309.40 C72.77,310.38 77.60,324.63 80.00,327.78 C82.40,328.70 83.67,328.21 84.40,328.29" fill="none" stroke="#000000" stroke-width="2.2" stroke-linejoin="round" stroke-linecap="round"/>
<rect x="46.5" y="309.40" width="164.00" height="19.30" fill="none" stroke="#2a2a2a" stroke-width="1.25"/>
<line x1="42.5" y1="318.00" x2="46.5" y2="318.00" stroke="#2a2a2a" stroke-width="1"/>
<line x1="42.5" y1="328.70" x2="46.5" y2="328.70" stroke="#2a2a2a" stroke-width="1"/>
<line x1="63.40" y1="328.70" x2="63.40" y2="332.70" stroke="#2a2a2a" stroke-width="1"/>
<line x1="118.00" y1="328.70" x2="118.00" y2="332.70" stroke="#2a2a2a" stroke-width="1"/>
<line x1="172.60" y1="328.70" x2="172.60" y2="332.70" stroke="#2a2a2a" stroke-width="1"/>
<text class="s" x="37.50" y="322.00" font-size="11" text-anchor="end" fill="#333" textLength="17.17" lengthAdjust="spacingAndGlyphs">2.5</text>
<text class="s" x="37.50" y="332.70" font-size="11" text-anchor="end" fill="#333" textLength="17.17" lengthAdjust="spacingAndGlyphs">0.0</text>
<text class="s" x="111.00" y="323.70" font-size="12" text-anchor="start" fill="#111" >State 2</text>
<line x1="63.40" y1="336.70" x2="63.40" y2="356.00" stroke="#c0c0c0" stroke-width="1"/>
<line x1="118.00" y1="336.70" x2="118.00" y2="356.00" stroke="#c0c0c0" stroke-width="1"/>
<line x1="172.60" y1="336.70" x2="172.60" y2="356.00" stroke="#c0c0c0" stroke-width="1"/>
<line x1="46.5" y1="340.90" x2="210.5" y2="340.90" stroke="#c0c0c0" stroke-width="1"/>
<path d="M60.00,356.00 C60.55,355.90 61.83,356.00 63.30,355.40 C64.77,353.82 67.43,348.55 68.80,346.50 C70.17,344.45 70.67,344.63 71.50,343.10 C72.33,341.57 72.78,336.70 73.80,337.30 C74.82,338.55 76.52,347.58 77.60,350.60 C78.68,353.62 79.17,354.50 80.30,355.40 C81.43,356.00 83.72,355.90 84.40,356.00" fill="none" stroke="#000000" stroke-width="2.2" stroke-linejoin="round" stroke-linecap="round"/>
<rect x="46.5" y="336.70" width="164.00" height="19.30" fill="none" stroke="#2a2a2a" stroke-width="1.25"/>
<line x1="42.5" y1="340.90" x2="46.5" y2="340.90" stroke="#2a2a2a" stroke-width="1"/>
<line x1="42.5" y1="356.00" x2="46.5" y2="356.00" stroke="#2a2a2a" stroke-width="1"/>
<line x1="63.40" y1="356.00" x2="63.40" y2="360.00" stroke="#2a2a2a" stroke-width="1"/>
<line x1="118.00" y1="356.00" x2="118.00" y2="360.00" stroke="#2a2a2a" stroke-width="1"/>
<line x1="172.60" y1="356.00" x2="172.60" y2="360.00" stroke="#2a2a2a" stroke-width="1"/>
<text class="s" x="37.50" y="344.90" font-size="11" text-anchor="end" fill="#333" textLength="6.87" lengthAdjust="spacingAndGlyphs">5</text>
<text class="s" x="37.50" y="360.00" font-size="11" text-anchor="end" fill="#333" textLength="6.87" lengthAdjust="spacingAndGlyphs">0</text>
<text class="s" x="134.50" y="350.80" font-size="12" text-anchor="start" fill="#111" >State 3</text>
<line x1="63.40" y1="364.00" x2="63.40" y2="383.30" stroke="#c0c0c0" stroke-width="1"/>
<line x1="118.00" y1="364.00" x2="118.00" y2="383.30" stroke="#c0c0c0" stroke-width="1"/>
<line x1="172.60" y1="364.00" x2="172.60" y2="383.30" stroke="#c0c0c0" stroke-width="1"/>
<line x1="46.5" y1="370.70" x2="210.5" y2="370.70" stroke="#c0c0c0" stroke-width="1"/>
<path d="M47.00,383.00 C48.48,382.81 53.28,382.34 55.90,381.88 C58.52,381.42 60.55,381.44 62.70,380.25 C64.85,379.06 66.65,377.34 68.80,374.77 C70.95,372.20 73.33,364.35 75.60,364.81 C77.87,365.27 80.70,374.70 82.40,377.51 C84.10,380.32 84.10,380.75 85.80,381.67 C87.50,382.59 91.47,382.78 92.60,383.00" fill="none" stroke="#000000" stroke-width="2.2" stroke-linejoin="round" stroke-linecap="round"/>
<rect x="46.5" y="364.00" width="164.00" height="19.30" fill="none" stroke="#2a2a2a" stroke-width="1.25"/>
<line x1="42.5" y1="370.70" x2="46.5" y2="370.70" stroke="#2a2a2a" stroke-width="1"/>
<line x1="42.5" y1="383.30" x2="46.5" y2="383.30" stroke="#2a2a2a" stroke-width="1"/>
<line x1="63.40" y1="383.30" x2="63.40" y2="387.30" stroke="#2a2a2a" stroke-width="1"/>
<line x1="118.00" y1="383.30" x2="118.00" y2="387.30" stroke="#2a2a2a" stroke-width="1"/>
<line x1="172.60" y1="383.30" x2="172.60" y2="387.30" stroke="#2a2a2a" stroke-width="1"/>
<text class="s" x="37.50" y="374.70" font-size="11" text-anchor="end" fill="#333" textLength="17.17" lengthAdjust="spacingAndGlyphs">2.5</text>
<text class="s" x="37.50" y="387.30" font-size="11" text-anchor="end" fill="#333" textLength="17.17" lengthAdjust="spacingAndGlyphs">0.0</text>
<text class="s" x="123.60" y="378.00" font-size="12" text-anchor="start" fill="#111" >State 4</text>
<line x1="63.40" y1="391.30" x2="63.40" y2="410.60" stroke="#c0c0c0" stroke-width="1"/>
<line x1="118.00" y1="391.30" x2="118.00" y2="410.60" stroke="#c0c0c0" stroke-width="1"/>
<line x1="172.60" y1="391.30" x2="172.60" y2="410.60" stroke="#c0c0c0" stroke-width="1"/>
<line x1="46.5" y1="397.50" x2="210.5" y2="397.50" stroke="#c0c0c0" stroke-width="1"/>
<path d="M52.50,410.29 C54.30,410.10 60.02,409.74 63.30,409.15 C66.58,408.56 69.93,407.75 72.20,406.76 C74.47,405.77 75.37,404.29 76.90,403.23 C78.43,402.18 79.52,402.31 81.40,400.43 C83.28,398.55 86.45,392.63 88.20,391.92 C89.95,391.30 90.38,393.34 91.90,396.18 C93.42,399.02 95.15,406.59 97.30,408.94 C99.45,410.60 103.55,410.06 104.80,410.29" fill="none" stroke="#000000" stroke-width="2.2" stroke-linejoin="round" stroke-linecap="round"/>
<rect x="46.5" y="391.30" width="164.00" height="19.30" fill="none" stroke="#2a2a2a" stroke-width="1.25"/>
<line x1="42.5" y1="397.50" x2="46.5" y2="397.50" stroke="#2a2a2a" stroke-width="1"/>
<line x1="42.5" y1="410.60" x2="46.5" y2="410.60" stroke="#2a2a2a" stroke-width="1"/>
<line x1="63.40" y1="410.60" x2="63.40" y2="414.60" stroke="#2a2a2a" stroke-width="1"/>
<line x1="118.00" y1="410.60" x2="118.00" y2="414.60" stroke="#2a2a2a" stroke-width="1"/>
<line x1="172.60" y1="410.60" x2="172.60" y2="414.60" stroke="#2a2a2a" stroke-width="1"/>
<text class="s" x="37.50" y="401.50" font-size="11" text-anchor="end" fill="#333" textLength="17.17" lengthAdjust="spacingAndGlyphs">2.5</text>
<text class="s" x="37.50" y="414.60" font-size="11" text-anchor="end" fill="#333" textLength="17.17" lengthAdjust="spacingAndGlyphs">0.0</text>
<text class="s" x="134.70" y="405.40" font-size="12" text-anchor="start" fill="#111" >State 5</text>
<line x1="63.40" y1="418.60" x2="63.40" y2="437.90" stroke="#c0c0c0" stroke-width="1"/>
<line x1="118.00" y1="418.60" x2="118.00" y2="437.90" stroke="#c0c0c0" stroke-width="1"/>
<line x1="172.60" y1="418.60" x2="172.60" y2="437.90" stroke="#c0c0c0" stroke-width="1"/>
<line x1="46.5" y1="421.00" x2="210.5" y2="421.00" stroke="#c0c0c0" stroke-width="1"/>
<path d="M77.50,437.60 C78.52,437.48 81.68,436.97 83.60,436.90 C85.52,436.83 86.97,437.90 89.00,437.20 C91.03,436.35 94.10,433.62 95.80,431.80 C97.50,429.98 98.00,428.42 99.20,426.30 C100.40,424.18 101.75,418.60 103.00,419.10 C104.25,419.68 105.52,427.00 106.70,429.80 C107.88,432.60 108.52,434.60 110.10,435.90 C111.68,437.20 115.18,437.32 116.20,437.60" fill="none" stroke="#000000" stroke-width="2.2" stroke-linejoin="round" stroke-linecap="round"/>
<rect x="46.5" y="418.60" width="164.00" height="19.30" fill="none" stroke="#2a2a2a" stroke-width="1.25"/>
<line x1="42.5" y1="421.00" x2="46.5" y2="421.00" stroke="#2a2a2a" stroke-width="1"/>
<line x1="42.5" y1="437.90" x2="46.5" y2="437.90" stroke="#2a2a2a" stroke-width="1"/>
<line x1="63.40" y1="437.90" x2="63.40" y2="441.90" stroke="#2a2a2a" stroke-width="1"/>
<line x1="118.00" y1="437.90" x2="118.00" y2="441.90" stroke="#2a2a2a" stroke-width="1"/>
<line x1="172.60" y1="437.90" x2="172.60" y2="441.90" stroke="#2a2a2a" stroke-width="1"/>
<text class="s" x="37.50" y="425.00" font-size="11" text-anchor="end" fill="#333" textLength="6.87" lengthAdjust="spacingAndGlyphs">5</text>
<text class="s" x="37.50" y="441.90" font-size="11" text-anchor="end" fill="#333" textLength="6.87" lengthAdjust="spacingAndGlyphs">0</text>
<text class="s" x="155.20" y="433.90" font-size="12" text-anchor="start" fill="#111" >State 6</text>
<line x1="63.40" y1="445.90" x2="63.40" y2="465.20" stroke="#c0c0c0" stroke-width="1"/>
<line x1="118.00" y1="445.90" x2="118.00" y2="465.20" stroke="#c0c0c0" stroke-width="1"/>
<line x1="172.60" y1="445.90" x2="172.60" y2="465.20" stroke="#c0c0c0" stroke-width="1"/>
<line x1="46.5" y1="450.80" x2="210.5" y2="450.80" stroke="#c0c0c0" stroke-width="1"/>
<path d="M87.70,465.20 C89.05,465.10 93.08,464.77 95.80,464.58 C98.52,464.39 101.52,465.13 104.00,464.07 C106.48,463.01 107.98,461.11 110.70,458.22 C113.42,455.33 118.13,448.59 120.30,446.72 C122.47,445.90 122.35,445.90 123.70,447.03 C125.05,448.71 126.93,453.99 128.40,456.78 C129.87,459.57 130.68,462.36 132.50,463.76 C134.32,465.16 138.17,464.96 139.30,465.20" fill="none" stroke="#000000" stroke-width="2.2" stroke-linejoin="round" stroke-linecap="round"/>
<rect x="46.5" y="445.90" width="164.00" height="19.30" fill="none" stroke="#2a2a2a" stroke-width="1.25"/>
<line x1="42.5" y1="450.80" x2="46.5" y2="450.80" stroke="#2a2a2a" stroke-width="1"/>
<line x1="42.5" y1="465.20" x2="46.5" y2="465.20" stroke="#2a2a2a" stroke-width="1"/>
<line x1="63.40" y1="465.20" x2="63.40" y2="469.20" stroke="#2a2a2a" stroke-width="1"/>
<line x1="118.00" y1="465.20" x2="118.00" y2="469.20" stroke="#2a2a2a" stroke-width="1"/>
<line x1="172.60" y1="465.20" x2="172.60" y2="469.20" stroke="#2a2a2a" stroke-width="1"/>
<text class="s" x="37.50" y="454.80" font-size="11" text-anchor="end" fill="#333" textLength="17.17" lengthAdjust="spacingAndGlyphs">2.5</text>
<text class="s" x="37.50" y="469.20" font-size="11" text-anchor="end" fill="#333" textLength="17.17" lengthAdjust="spacingAndGlyphs">0.0</text>
<text class="s" x="57.40" y="461.60" font-size="12" text-anchor="start" fill="#111" >State 7</text>
<line x1="63.40" y1="473.20" x2="63.40" y2="492.50" stroke="#c0c0c0" stroke-width="1"/>
<line x1="118.00" y1="473.20" x2="118.00" y2="492.50" stroke="#c0c0c0" stroke-width="1"/>
<line x1="172.60" y1="473.20" x2="172.60" y2="492.50" stroke="#c0c0c0" stroke-width="1"/>
<line x1="46.5" y1="481.70" x2="210.5" y2="481.70" stroke="#c0c0c0" stroke-width="1"/>
<path d="M104.60,492.50 C105.28,492.11 107.33,491.24 108.70,490.16 C110.07,489.08 111.67,487.03 112.80,486.00 C113.93,484.97 114.15,485.97 115.50,483.97 C116.85,481.97 119.20,474.13 120.90,474.01 C122.60,473.89 124.00,480.28 125.70,483.26 C127.40,486.24 129.28,490.35 131.10,491.89 C132.92,492.50 135.68,492.40 136.60,492.50" fill="none" stroke="#000000" stroke-width="2.2" stroke-linejoin="round" stroke-linecap="round"/>
<rect x="46.5" y="473.20" width="164.00" height="19.30" fill="none" stroke="#2a2a2a" stroke-width="1.25"/>
<line x1="42.5" y1="481.70" x2="46.5" y2="481.70" stroke="#2a2a2a" stroke-width="1"/>
<line x1="42.5" y1="492.50" x2="46.5" y2="492.50" stroke="#2a2a2a" stroke-width="1"/>
<line x1="63.40" y1="492.50" x2="63.40" y2="496.50" stroke="#2a2a2a" stroke-width="1"/>
<line x1="118.00" y1="492.50" x2="118.00" y2="496.50" stroke="#2a2a2a" stroke-width="1"/>
<line x1="172.60" y1="492.50" x2="172.60" y2="496.50" stroke="#2a2a2a" stroke-width="1"/>
<text class="s" x="37.50" y="485.70" font-size="11" text-anchor="end" fill="#333" textLength="17.17" lengthAdjust="spacingAndGlyphs">2.5</text>
<text class="s" x="37.50" y="496.50" font-size="11" text-anchor="end" fill="#333" textLength="17.17" lengthAdjust="spacingAndGlyphs">0.0</text>
<text class="s" x="58.00" y="488.80" font-size="12" text-anchor="start" fill="#111" >State 8</text>
<line x1="63.40" y1="500.50" x2="63.40" y2="519.80" stroke="#c0c0c0" stroke-width="1"/>
<line x1="118.00" y1="500.50" x2="118.00" y2="519.80" stroke="#c0c0c0" stroke-width="1"/>
<line x1="172.60" y1="500.50" x2="172.60" y2="519.80" stroke="#c0c0c0" stroke-width="1"/>
<line x1="46.5" y1="508.00" x2="210.5" y2="508.00" stroke="#c0c0c0" stroke-width="1"/>
<path d="M113.50,519.60 C113.87,519.40 114.88,519.55 115.70,518.40 C116.52,517.25 117.52,515.57 118.40,512.70 C119.28,509.83 120.20,502.67 121.00,501.20 C121.80,500.50 122.47,502.28 123.20,503.90 C123.93,505.52 124.65,508.55 125.40,510.90 C126.15,513.25 126.88,516.55 127.70,518.00 C128.52,519.45 129.87,519.33 130.30,519.60" fill="none" stroke="#000000" stroke-width="2.2" stroke-linejoin="round" stroke-linecap="round"/>
<rect x="46.5" y="500.50" width="164.00" height="19.30" fill="none" stroke="#2a2a2a" stroke-width="1.25"/>
<line x1="42.5" y1="508.00" x2="46.5" y2="508.00" stroke="#2a2a2a" stroke-width="1"/>
<line x1="42.5" y1="519.80" x2="46.5" y2="519.80" stroke="#2a2a2a" stroke-width="1"/>
<line x1="63.40" y1="519.80" x2="63.40" y2="523.80" stroke="#2a2a2a" stroke-width="1"/>
<line x1="118.00" y1="519.80" x2="118.00" y2="523.80" stroke="#2a2a2a" stroke-width="1"/>
<line x1="172.60" y1="519.80" x2="172.60" y2="523.80" stroke="#2a2a2a" stroke-width="1"/>
<text class="s" x="37.50" y="512.00" font-size="11" text-anchor="end" fill="#333" textLength="6.87" lengthAdjust="spacingAndGlyphs">5</text>
<text class="s" x="37.50" y="523.80" font-size="11" text-anchor="end" fill="#333" textLength="6.87" lengthAdjust="spacingAndGlyphs">0</text>
<text class="s" x="58.00" y="515.00" font-size="12" text-anchor="start" fill="#111" >State 9</text>
<line x1="63.40" y1="527.80" x2="63.40" y2="547.10" stroke="#c0c0c0" stroke-width="1"/>
<line x1="118.00" y1="527.80" x2="118.00" y2="547.10" stroke="#c0c0c0" stroke-width="1"/>
<line x1="172.60" y1="527.80" x2="172.60" y2="547.10" stroke="#c0c0c0" stroke-width="1"/>
<line x1="46.5" y1="536.90" x2="210.5" y2="536.90" stroke="#c0c0c0" stroke-width="1"/>
<path d="M127.70,547.10 C128.28,546.95 130.10,547.10 131.20,546.18 C132.30,544.43 133.30,539.57 134.30,536.63 C135.30,533.69 136.25,528.52 137.20,528.52 C138.15,528.52 139.02,533.69 140.00,536.63 C140.98,539.57 142.07,544.43 143.10,546.18 C144.13,547.10 145.68,546.95 146.20,547.10" fill="none" stroke="#000000" stroke-width="2.2" stroke-linejoin="round" stroke-linecap="round"/>
<rect x="46.5" y="527.80" width="164.00" height="19.30" fill="none" stroke="#2a2a2a" stroke-width="1.25"/>
<line x1="42.5" y1="536.90" x2="46.5" y2="536.90" stroke="#2a2a2a" stroke-width="1"/>
<line x1="42.5" y1="547.10" x2="46.5" y2="547.10" stroke="#2a2a2a" stroke-width="1"/>
<line x1="63.40" y1="547.10" x2="63.40" y2="551.10" stroke="#2a2a2a" stroke-width="1"/>
<line x1="118.00" y1="547.10" x2="118.00" y2="551.10" stroke="#2a2a2a" stroke-width="1"/>
<line x1="172.60" y1="547.10" x2="172.60" y2="551.10" stroke="#2a2a2a" stroke-width="1"/>
<text class="s" x="37.50" y="540.90" font-size="11" text-anchor="end" fill="#333" textLength="6.87" lengthAdjust="spacingAndGlyphs">5</text>
<text class="s" x="37.50" y="551.10" font-size="11" text-anchor="end" fill="#333" textLength="6.87" lengthAdjust="spacingAndGlyphs">0</text>
<text class="s" x="56.50" y="543.30" font-size="12" text-anchor="start" fill="#111" >State 10</text>
<text x="50.60" y="568.0" font-size="15.5" fill="#222"><tspan textLength="17.8" lengthAdjust="spacingAndGlyphs">10</tspan><tspan font-size="11" dx="1" dy="-6">5</tspan></text>
<text x="105.20" y="568.0" font-size="15.5" fill="#222"><tspan textLength="17.8" lengthAdjust="spacingAndGlyphs">10</tspan><tspan font-size="11" dx="1" dy="-6">6</tspan></text>
<text x="159.80" y="568.0" font-size="15.5" fill="#222"><tspan textLength="17.8" lengthAdjust="spacingAndGlyphs">10</tspan><tspan font-size="11" dx="1" dy="-6">7</tspan></text>
<rect x="50.0" y="254.2" width="158.70" height="24.20" rx="3.2" ry="3.2" fill="#fff" stroke="#505050" stroke-width="1" stroke-dasharray="2,1"/>
<text class="s" x="62.80" y="270.80" font-size="12" text-anchor="start" fill="#111" textLength="118.5" lengthAdjust="spacingAndGlyphs">Temperature = 300 K</text>
<text x="33.30" y="249.60" font-size="16" text-anchor="start" fill="#222" >d)</text>
<text transform="translate(11.2,410.0) rotate(-90)" class="s" font-size="12.5" text-anchor="middle" fill="#222">Probability Density (a.u)</text>
<text class="s" y="585.0" font-size="13" fill="#222"><tspan x="76.80" font-style="italic">R</tspan><tspan x="85.80" font-style="italic" font-size="9.5" dy="2.3" textLength="25.5" lengthAdjust="spacingAndGlyphs">eNVM</tspan><tspan x="116.00" dy="-2.3" textLength="63.6" lengthAdjust="spacingAndGlyphs">@0.1V (Ω)</tspan></text>
<line x1="306.70" y1="282.20" x2="306.70" y2="301.40" stroke="#c0c0c0" stroke-width="1"/>
<line x1="351.00" y1="282.20" x2="351.00" y2="301.40" stroke="#c0c0c0" stroke-width="1"/>
<line x1="395.30" y1="282.20" x2="395.30" y2="301.40" stroke="#c0c0c0" stroke-width="1"/>
<line x1="283.3" y1="290.00" x2="447.3" y2="290.00" stroke="#c0c0c0" stroke-width="1"/>
<polyline points="296.50,301.40 299.90,300.09 302.60,290.79 304.70,282.81 306.70,285.23 308.80,296.25 310.80,300.59 314.90,301.40" fill="none" stroke="#0b0bff" stroke-width="2.2" stroke-linejoin="round" stroke-linecap="round"/>
<rect x="283.3" y="282.20" width="164.00" height="19.20" fill="none" stroke="#2a2a2a" stroke-width="1.25"/>
<line x1="279.3" y1="290.00" x2="283.3" y2="290.00" stroke="#2a2a2a" stroke-width="1"/>
<line x1="279.3" y1="301.40" x2="283.3" y2="301.40" stroke="#2a2a2a" stroke-width="1"/>
<line x1="306.70" y1="301.40" x2="306.70" y2="305.40" stroke="#2a2a2a" stroke-width="1"/>
<line x1="351.00" y1="301.40" x2="351.00" y2="305.40" stroke="#2a2a2a" stroke-width="1"/>
<line x1="395.30" y1="301.40" x2="395.30" y2="305.40" stroke="#2a2a2a" stroke-width="1"/>
<text class="s" x="274.30" y="294.00" font-size="11" text-anchor="end" fill="#333" textLength="6.87" lengthAdjust="spacingAndGlyphs">5</text>
<text class="s" x="274.30" y="305.40" font-size="11" text-anchor="end" fill="#333" textLength="6.87" lengthAdjust="spacingAndGlyphs">0</text>
<text class="s" x="316.60" y="295.90" font-size="12" text-anchor="start" fill="#111" >State 1</text>
<line x1="306.70" y1="309.58" x2="306.70" y2="328.78" stroke="#c0c0c0" stroke-width="1"/>
<line x1="351.00" y1="309.58" x2="351.00" y2="328.78" stroke="#c0c0c0" stroke-width="1"/>
<line x1="395.30" y1="309.58" x2="395.30" y2="328.78" stroke="#c0c0c0" stroke-width="1"/>
<line x1="283.3" y1="315.68" x2="447.3" y2="315.68" stroke="#c0c0c0" stroke-width="1"/>
<polyline points="297.20,328.78 299.90,327.76 303.30,325.02 305.10,322.28 308.10,310.49 310.80,316.69 313.50,326.44 316.90,328.78" fill="none" stroke="#0b0bff" stroke-width="2.2" stroke-linejoin="round" stroke-linecap="round"/>
<rect x="283.3" y="309.58" width="164.00" height="19.20" fill="none" stroke="#2a2a2a" stroke-width="1.25"/>
<line x1="279.3" y1="315.68" x2="283.3" y2="315.68" stroke="#2a2a2a" stroke-width="1"/>
<line x1="279.3" y1="328.78" x2="283.3" y2="328.78" stroke="#2a2a2a" stroke-width="1"/>
<line x1="306.70" y1="328.78" x2="306.70" y2="332.78" stroke="#2a2a2a" stroke-width="1"/>
<line x1="351.00" y1="328.78" x2="351.00" y2="332.78" stroke="#2a2a2a" stroke-width="1"/>
<line x1="395.30" y1="328.78" x2="395.30" y2="332.78" stroke="#2a2a2a" stroke-width="1"/>
<text class="s" x="274.30" y="319.68" font-size="11" text-anchor="end" fill="#333" textLength="6.87" lengthAdjust="spacingAndGlyphs">5</text>
<text class="s" x="274.30" y="332.78" font-size="11" text-anchor="end" fill="#333" textLength="6.87" lengthAdjust="spacingAndGlyphs">0</text>
<text class="s" x="318.60" y="324.00" font-size="12" text-anchor="start" fill="#111" >State 2</text>
<line x1="306.70" y1="336.96" x2="306.70" y2="356.16" stroke="#c0c0c0" stroke-width="1"/>
<line x1="351.00" y1="336.96" x2="351.00" y2="356.16" stroke="#c0c0c0" stroke-width="1"/>
<line x1="395.30" y1="336.96" x2="395.30" y2="356.16" stroke="#c0c0c0" stroke-width="1"/>
<line x1="283.3" y1="341.36" x2="447.3" y2="341.36" stroke="#c0c0c0" stroke-width="1"/>
<path d="M293.80,356.16 C295.05,356.01 299.03,355.76 301.30,355.25 C303.57,354.74 305.48,354.04 307.40,353.11 C309.32,352.18 310.53,352.18 312.80,349.66 C315.07,347.14 318.85,338.66 321.00,337.98 C323.15,337.30 324.00,342.71 325.70,345.59 C327.40,348.47 329.05,353.49 331.20,355.25 C333.35,356.16 337.37,356.01 338.60,356.16" fill="none" stroke="#0b0bff" stroke-width="2.2" stroke-linejoin="round" stroke-linecap="round"/>
<rect x="283.3" y="336.96" width="164.00" height="19.20" fill="none" stroke="#2a2a2a" stroke-width="1.25"/>
<line x1="279.3" y1="341.36" x2="283.3" y2="341.36" stroke="#2a2a2a" stroke-width="1"/>
<line x1="279.3" y1="356.16" x2="283.3" y2="356.16" stroke="#2a2a2a" stroke-width="1"/>
<line x1="306.70" y1="356.16" x2="306.70" y2="360.16" stroke="#2a2a2a" stroke-width="1"/>
<line x1="351.00" y1="356.16" x2="351.00" y2="360.16" stroke="#2a2a2a" stroke-width="1"/>
<line x1="395.30" y1="356.16" x2="395.30" y2="360.16" stroke="#2a2a2a" stroke-width="1"/>
<text class="s" x="274.30" y="345.36" font-size="11" text-anchor="end" fill="#333" textLength="17.17" lengthAdjust="spacingAndGlyphs">2.5</text>
<text class="s" x="274.30" y="360.16" font-size="11" text-anchor="end" fill="#333" textLength="17.17" lengthAdjust="spacingAndGlyphs">0.0</text>
<text class="s" x="342.80" y="350.80" font-size="12" text-anchor="start" fill="#111" >State 3</text>
<line x1="306.70" y1="364.34" x2="306.70" y2="383.54" stroke="#c0c0c0" stroke-width="1"/>
<line x1="351.00" y1="364.34" x2="351.00" y2="383.54" stroke="#c0c0c0" stroke-width="1"/>
<line x1="395.30" y1="364.34" x2="395.30" y2="383.54" stroke="#c0c0c0" stroke-width="1"/>
<line x1="283.3" y1="371.14" x2="447.3" y2="371.14" stroke="#c0c0c0" stroke-width="1"/>
<path d="M284.00,383.54 C288.33,383.52 302.33,383.49 310.00,383.44 C317.67,383.39 324.48,383.44 330.00,383.23 C335.52,383.02 339.60,382.52 343.10,382.19 C346.60,381.86 348.47,381.61 351.00,381.26 C353.53,380.91 356.32,380.76 358.30,380.12 C360.28,379.48 361.05,378.79 362.90,377.42 C364.75,376.05 367.22,373.63 369.40,371.92 C371.58,370.21 373.92,368.32 376.00,367.14 C378.08,365.96 380.15,364.96 381.90,364.86 C383.65,364.76 384.85,365.12 386.50,366.52 C388.15,367.92 390.05,371.00 391.80,373.27 C393.55,375.54 395.25,378.53 397.00,380.12 C398.75,381.71 400.33,382.24 402.30,382.81 C404.27,383.38 406.18,383.42 408.80,383.54 C411.42,383.54 416.47,383.54 418.00,383.54" fill="none" stroke="#0b0bff" stroke-width="2.2" stroke-linejoin="round" stroke-linecap="round"/>
<rect x="283.3" y="364.34" width="164.00" height="19.20" fill="none" stroke="#2a2a2a" stroke-width="1.25"/>
<line x1="279.3" y1="371.14" x2="283.3" y2="371.14" stroke="#2a2a2a" stroke-width="1"/>
<line x1="279.3" y1="383.54" x2="283.3" y2="383.54" stroke="#2a2a2a" stroke-width="1"/>
<line x1="306.70" y1="383.54" x2="306.70" y2="387.54" stroke="#2a2a2a" stroke-width="1"/>
<line x1="351.00" y1="383.54" x2="351.00" y2="387.54" stroke="#2a2a2a" stroke-width="1"/>
<line x1="395.30" y1="383.54" x2="395.30" y2="387.54" stroke="#2a2a2a" stroke-width="1"/>
<text class="s" x="274.30" y="375.14" font-size="11" text-anchor="end" fill="#333" textLength="6.87" lengthAdjust="spacingAndGlyphs">1</text>
<text class="s" x="274.30" y="387.54" font-size="11" text-anchor="end" fill="#333" textLength="6.87" lengthAdjust="spacingAndGlyphs">0</text>
<text class="s" x="302.00" y="378.00" font-size="12" text-anchor="start" fill="#111" >State 4</text>
<line x1="306.70" y1="391.72" x2="306.70" y2="410.92" stroke="#c0c0c0" stroke-width="1"/>
<line x1="351.00" y1="391.72" x2="351.00" y2="410.92" stroke="#c0c0c0" stroke-width="1"/>
<line x1="395.30" y1="391.72" x2="395.30" y2="410.92" stroke="#c0c0c0" stroke-width="1"/>
<line x1="283.3" y1="400.82" x2="447.3" y2="400.82" stroke="#c0c0c0" stroke-width="1"/>
<path d="M381.10,410.92 C381.78,410.71 383.67,410.92 385.20,409.67 C386.73,407.62 388.60,401.51 390.30,398.61 C392.00,395.71 393.70,391.72 395.40,392.24 C397.10,392.95 398.80,399.78 400.50,402.89 C402.20,406.00 404.75,409.58 405.60,410.92" fill="none" stroke="#0b0bff" stroke-width="2.2" stroke-linejoin="round" stroke-linecap="round"/>
<rect x="283.3" y="391.72" width="164.00" height="19.20" fill="none" stroke="#2a2a2a" stroke-width="1.25"/>
<line x1="279.3" y1="400.82" x2="283.3" y2="400.82" stroke="#2a2a2a" stroke-width="1"/>
<line x1="279.3" y1="410.92" x2="283.3" y2="410.92" stroke="#2a2a2a" stroke-width="1"/>
<line x1="306.70" y1="410.92" x2="306.70" y2="414.92" stroke="#2a2a2a" stroke-width="1"/>
<line x1="351.00" y1="410.92" x2="351.00" y2="414.92" stroke="#2a2a2a" stroke-width="1"/>
<line x1="395.30" y1="410.92" x2="395.30" y2="414.92" stroke="#2a2a2a" stroke-width="1"/>
<text class="s" x="274.30" y="404.82" font-size="11" text-anchor="end" fill="#333" textLength="17.17" lengthAdjust="spacingAndGlyphs">2.5</text>
<text class="s" x="274.30" y="414.92" font-size="11" text-anchor="end" fill="#333" textLength="17.17" lengthAdjust="spacingAndGlyphs">0.0</text>
<text class="s" x="302.00" y="405.40" font-size="12" text-anchor="start" fill="#111" >State 5</text>
<line x1="306.70" y1="419.10" x2="306.70" y2="438.30" stroke="#c0c0c0" stroke-width="1"/>
<line x1="351.00" y1="419.10" x2="351.00" y2="438.30" stroke="#c0c0c0" stroke-width="1"/>
<line x1="395.30" y1="419.10" x2="395.30" y2="438.30" stroke="#c0c0c0" stroke-width="1"/>
<line x1="283.3" y1="427.70" x2="447.3" y2="427.70" stroke="#c0c0c0" stroke-width="1"/>
<polyline points="393.70,438.09 394.83,437.46 395.97,435.70 397.10,432.07 398.23,426.65 399.37,421.36 400.50,419.10 401.63,421.36 402.77,426.65 403.90,432.07 405.03,435.70 406.17,437.46 407.30,438.09" fill="none" stroke="#0b0bff" stroke-width="2.2" stroke-linejoin="round" stroke-linecap="round"/>
<rect x="283.3" y="419.10" width="164.00" height="19.20" fill="none" stroke="#2a2a2a" stroke-width="1.25"/>
<line x1="279.3" y1="427.70" x2="283.3" y2="427.70" stroke="#2a2a2a" stroke-width="1"/>
<line x1="279.3" y1="438.30" x2="283.3" y2="438.30" stroke="#2a2a2a" stroke-width="1"/>
<line x1="306.70" y1="438.30" x2="306.70" y2="442.30" stroke="#2a2a2a" stroke-width="1"/>
<line x1="351.00" y1="438.30" x2="351.00" y2="442.30" stroke="#2a2a2a" stroke-width="1"/>
<line x1="395.30" y1="438.30" x2="395.30" y2="442.30" stroke="#2a2a2a" stroke-width="1"/>
<text class="s" x="274.30" y="431.70" font-size="11" text-anchor="end" fill="#333" textLength="6.87" lengthAdjust="spacingAndGlyphs">5</text>
<text class="s" x="274.30" y="442.30" font-size="11" text-anchor="end" fill="#333" textLength="6.87" lengthAdjust="spacingAndGlyphs">0</text>
<text class="s" x="302.00" y="433.30" font-size="12" text-anchor="start" fill="#111" >State 6</text>
<line x1="306.70" y1="446.48" x2="306.70" y2="465.68" stroke="#c0c0c0" stroke-width="1"/>
<line x1="351.00" y1="446.48" x2="351.00" y2="465.68" stroke="#c0c0c0" stroke-width="1"/>
<line x1="395.30" y1="446.48" x2="395.30" y2="465.68" stroke="#c0c0c0" stroke-width="1"/>
<line x1="283.3" y1="451.38" x2="447.3" y2="451.38" stroke="#c0c0c0" stroke-width="1"/>
<polyline points="400.80,465.47 401.05,464.84 401.30,463.08 401.55,459.45 401.80,454.03 402.05,448.74 402.30,446.48 402.55,448.74 402.80,454.03 403.05,459.45 403.30,463.08 403.55,464.84 403.80,465.47" fill="none" stroke="#0b0bff" stroke-width="2.2" stroke-linejoin="round" stroke-linecap="round"/>
<rect x="283.3" y="446.48" width="164.00" height="19.20" fill="none" stroke="#2a2a2a" stroke-width="1.25"/>
<line x1="279.3" y1="451.38" x2="283.3" y2="451.38" stroke="#2a2a2a" stroke-width="1"/>
<line x1="279.3" y1="465.68" x2="283.3" y2="465.68" stroke="#2a2a2a" stroke-width="1"/>
<line x1="306.70" y1="465.68" x2="306.70" y2="469.68" stroke="#2a2a2a" stroke-width="1"/>
<line x1="351.00" y1="465.68" x2="351.00" y2="469.68" stroke="#2a2a2a" stroke-width="1"/>
<line x1="395.30" y1="465.68" x2="395.30" y2="469.68" stroke="#2a2a2a" stroke-width="1"/>
<text class="s" x="274.30" y="455.38" font-size="11" text-anchor="end" fill="#333" textLength="13.74" lengthAdjust="spacingAndGlyphs">50</text>
<text class="s" x="274.30" y="469.68" font-size="11" text-anchor="end" fill="#333" textLength="6.87" lengthAdjust="spacingAndGlyphs">0</text>
<text class="s" x="302.00" y="461.00" font-size="12" text-anchor="start" fill="#111" >State 7</text>
<line x1="306.70" y1="473.86" x2="306.70" y2="493.06" stroke="#c0c0c0" stroke-width="1"/>
<line x1="351.00" y1="473.86" x2="351.00" y2="493.06" stroke="#c0c0c0" stroke-width="1"/>
<line x1="395.30" y1="473.86" x2="395.30" y2="493.06" stroke="#c0c0c0" stroke-width="1"/>
<line x1="283.3" y1="478.76" x2="447.3" y2="478.76" stroke="#c0c0c0" stroke-width="1"/>
<polyline points="401.30,492.85 401.65,492.22 402.00,490.46 402.35,486.83 402.70,481.41 403.05,476.12 403.40,473.86 403.75,476.12 404.10,481.41 404.45,486.83 404.80,490.46 405.15,492.22 405.50,492.85" fill="none" stroke="#0b0bff" stroke-width="2.2" stroke-linejoin="round" stroke-linecap="round"/>
<rect x="283.3" y="473.86" width="164.00" height="19.20" fill="none" stroke="#2a2a2a" stroke-width="1.25"/>
<line x1="279.3" y1="478.76" x2="283.3" y2="478.76" stroke="#2a2a2a" stroke-width="1"/>
<line x1="279.3" y1="493.06" x2="283.3" y2="493.06" stroke="#2a2a2a" stroke-width="1"/>
<line x1="306.70" y1="493.06" x2="306.70" y2="497.06" stroke="#2a2a2a" stroke-width="1"/>
<line x1="351.00" y1="493.06" x2="351.00" y2="497.06" stroke="#2a2a2a" stroke-width="1"/>
<line x1="395.30" y1="493.06" x2="395.30" y2="497.06" stroke="#2a2a2a" stroke-width="1"/>
<text class="s" x="274.30" y="482.76" font-size="11" text-anchor="end" fill="#333" textLength="13.74" lengthAdjust="spacingAndGlyphs">25</text>
<text class="s" x="274.30" y="497.06" font-size="11" text-anchor="end" fill="#333" textLength="6.87" lengthAdjust="spacingAndGlyphs">0</text>
<text class="s" x="302.00" y="489.30" font-size="12" text-anchor="start" fill="#111" >State 8</text>
<line x1="306.70" y1="501.24" x2="306.70" y2="520.44" stroke="#c0c0c0" stroke-width="1"/>
<line x1="351.00" y1="501.24" x2="351.00" y2="520.44" stroke="#c0c0c0" stroke-width="1"/>
<line x1="395.30" y1="501.24" x2="395.30" y2="520.44" stroke="#c0c0c0" stroke-width="1"/>
<line x1="283.3" y1="503.54" x2="447.3" y2="503.54" stroke="#c0c0c0" stroke-width="1"/>
<polyline points="406.20,520.23 406.42,519.60 406.63,517.84 406.85,514.21 407.07,508.79 407.28,503.50 407.50,501.24 407.72,503.50 407.93,508.79 408.15,514.21 408.37,517.84 408.58,519.60 408.80,520.23" fill="none" stroke="#0b0bff" stroke-width="2.2" stroke-linejoin="round" stroke-linecap="round"/>
<rect x="283.3" y="501.24" width="164.00" height="19.20" fill="none" stroke="#2a2a2a" stroke-width="1.25"/>
<line x1="279.3" y1="503.54" x2="283.3" y2="503.54" stroke="#2a2a2a" stroke-width="1"/>
<line x1="279.3" y1="520.44" x2="283.3" y2="520.44" stroke="#2a2a2a" stroke-width="1"/>
<line x1="306.70" y1="520.44" x2="306.70" y2="524.44" stroke="#2a2a2a" stroke-width="1"/>
<line x1="351.00" y1="520.44" x2="351.00" y2="524.44" stroke="#2a2a2a" stroke-width="1"/>
<line x1="395.30" y1="520.44" x2="395.30" y2="524.44" stroke="#2a2a2a" stroke-width="1"/>
<text class="s" x="274.30" y="507.54" font-size="11" text-anchor="end" fill="#333" textLength="13.74" lengthAdjust="spacingAndGlyphs">50</text>
<text class="s" x="274.30" y="524.44" font-size="11" text-anchor="end" fill="#333" textLength="6.87" lengthAdjust="spacingAndGlyphs">0</text>
<text class="s" x="302.00" y="515.90" font-size="12" text-anchor="start" fill="#111" >State 9</text>
<line x1="306.70" y1="528.62" x2="306.70" y2="547.82" stroke="#c0c0c0" stroke-width="1"/>
<line x1="351.00" y1="528.62" x2="351.00" y2="547.82" stroke="#c0c0c0" stroke-width="1"/>
<line x1="395.30" y1="528.62" x2="395.30" y2="547.82" stroke="#c0c0c0" stroke-width="1"/>
<line x1="283.3" y1="535.02" x2="447.3" y2="535.02" stroke="#c0c0c0" stroke-width="1"/>
<polyline points="405.50,547.61 406.17,546.98 406.83,545.22 407.50,541.59 408.17,536.17 408.83,530.88 409.50,528.62 410.17,530.88 410.83,536.17 411.50,541.59 412.17,545.22 412.83,546.98 413.50,547.61" fill="none" stroke="#0b0bff" stroke-width="2.2" stroke-linejoin="round" stroke-linecap="round"/>
<rect x="283.3" y="528.62" width="164.00" height="19.20" fill="none" stroke="#2a2a2a" stroke-width="1.25"/>
<line x1="279.3" y1="535.02" x2="283.3" y2="535.02" stroke="#2a2a2a" stroke-width="1"/>
<line x1="279.3" y1="547.82" x2="283.3" y2="547.82" stroke="#2a2a2a" stroke-width="1"/>
<line x1="306.70" y1="547.82" x2="306.70" y2="551.82" stroke="#2a2a2a" stroke-width="1"/>
<line x1="351.00" y1="547.82" x2="351.00" y2="551.82" stroke="#2a2a2a" stroke-width="1"/>
<line x1="395.30" y1="547.82" x2="395.30" y2="551.82" stroke="#2a2a2a" stroke-width="1"/>
<text class="s" x="274.30" y="539.02" font-size="11" text-anchor="end" fill="#333" textLength="13.74" lengthAdjust="spacingAndGlyphs">10</text>
<text class="s" x="274.30" y="551.82" font-size="11" text-anchor="end" fill="#333" textLength="6.87" lengthAdjust="spacingAndGlyphs">0</text>
<text class="s" x="299.60" y="542.80" font-size="12" text-anchor="start" fill="#111" >State 10</text>
<text x="293.90" y="568.2" font-size="15.5" fill="#222"><tspan textLength="17.8" lengthAdjust="spacingAndGlyphs">10</tspan><tspan font-size="11" dx="1" dy="-6">5</tspan></text>
<text x="338.20" y="568.2" font-size="15.5" fill="#222"><tspan textLength="17.8" lengthAdjust="spacingAndGlyphs">10</tspan><tspan font-size="11" dx="1" dy="-6">6</tspan></text>
<text x="382.50" y="568.2" font-size="15.5" fill="#222"><tspan textLength="17.8" lengthAdjust="spacingAndGlyphs">10</tspan><tspan font-size="11" dx="1" dy="-6">7</tspan></text>
<rect x="285.0" y="255.0" width="160.80" height="23.40" rx="3.2" ry="3.2" fill="#fff" stroke="#505050" stroke-width="1" stroke-dasharray="2,1"/>
<text class="s" x="301.80" y="271.10" font-size="12" text-anchor="start" fill="#111" textLength="110.8" lengthAdjust="spacingAndGlyphs">Temperature = 77 K</text>
<text x="260.90" y="252.60" font-size="16" text-anchor="start" fill="#222" >e)</text>
<text transform="translate(243.8,407.6) rotate(-90)" class="s" font-size="12.5" text-anchor="middle" fill="#222">Probability Density (a.u)</text>
<text class="s" y="585.0" font-size="13" fill="#222"><tspan x="314.20" font-style="italic">R</tspan><tspan x="323.20" font-style="italic" font-size="9.5" dy="2.3" textLength="25.5" lengthAdjust="spacingAndGlyphs">eNVM</tspan><tspan x="353.40" dy="-2.3" textLength="63.6" lengthAdjust="spacingAndGlyphs">@0.1V (Ω)</tspan></text>
<line x1="542.40" y1="280.20" x2="542.40" y2="299.70" stroke="#c0c0c0" stroke-width="1"/>
<line x1="586.40" y1="280.20" x2="586.40" y2="299.70" stroke="#c0c0c0" stroke-width="1"/>
<line x1="630.40" y1="280.20" x2="630.40" y2="299.70" stroke="#c0c0c0" stroke-width="1"/>
<line x1="518.8" y1="286.70" x2="682.8" y2="286.70" stroke="#c0c0c0" stroke-width="1"/>
<path d="M527.50,299.70 C528.07,299.54 529.77,298.87 530.90,298.76 C532.03,298.65 533.28,299.66 534.30,299.07 C535.32,298.48 536.10,297.37 537.00,295.19 C537.90,293.01 538.97,288.42 539.70,285.97 C540.43,283.52 540.83,280.75 541.40,280.51 C541.97,280.26 542.35,281.70 543.10,284.50 C543.85,287.30 544.65,294.76 545.90,297.29 C547.15,299.70 549.82,299.30 550.60,299.70" fill="none" stroke="#ff1a1a" stroke-width="2.2" stroke-linejoin="round" stroke-linecap="round"/>
<rect x="518.8" y="280.20" width="164.00" height="19.50" fill="none" stroke="#2a2a2a" stroke-width="1.25"/>
<line x1="514.8" y1="286.70" x2="518.8" y2="286.70" stroke="#2a2a2a" stroke-width="1"/>
<line x1="514.8" y1="299.70" x2="518.8" y2="299.70" stroke="#2a2a2a" stroke-width="1"/>
<line x1="542.40" y1="299.70" x2="542.40" y2="303.70" stroke="#2a2a2a" stroke-width="1"/>
<line x1="586.40" y1="299.70" x2="586.40" y2="303.70" stroke="#2a2a2a" stroke-width="1"/>
<line x1="630.40" y1="299.70" x2="630.40" y2="303.70" stroke="#2a2a2a" stroke-width="1"/>
<text class="s" x="509.80" y="290.70" font-size="11" text-anchor="end" fill="#333" textLength="6.87" lengthAdjust="spacingAndGlyphs">5</text>
<text class="s" x="509.80" y="303.70" font-size="11" text-anchor="end" fill="#333" textLength="6.87" lengthAdjust="spacingAndGlyphs">0</text>
<text class="s" x="551.20" y="292.80" font-size="12" text-anchor="start" fill="#111" >State 1</text>
<line x1="542.40" y1="307.57" x2="542.40" y2="327.07" stroke="#c0c0c0" stroke-width="1"/>
<line x1="586.40" y1="307.57" x2="586.40" y2="327.07" stroke="#c0c0c0" stroke-width="1"/>
<line x1="630.40" y1="307.57" x2="630.40" y2="327.07" stroke="#c0c0c0" stroke-width="1"/>
<line x1="518.8" y1="313.67" x2="682.8" y2="313.67" stroke="#c0c0c0" stroke-width="1"/>
<polyline points="539.10,327.07 541.80,324.52 544.10,313.39 545.60,308.18 547.20,317.58 549.90,326.66" fill="none" stroke="#ff1a1a" stroke-width="2.2" stroke-linejoin="round" stroke-linecap="round"/>
<rect x="518.8" y="307.57" width="164.00" height="19.50" fill="none" stroke="#2a2a2a" stroke-width="1.25"/>
<line x1="514.8" y1="313.67" x2="518.8" y2="313.67" stroke="#2a2a2a" stroke-width="1"/>
<line x1="514.8" y1="327.07" x2="518.8" y2="327.07" stroke="#2a2a2a" stroke-width="1"/>
<line x1="542.40" y1="327.07" x2="542.40" y2="331.07" stroke="#2a2a2a" stroke-width="1"/>
<line x1="586.40" y1="327.07" x2="586.40" y2="331.07" stroke="#2a2a2a" stroke-width="1"/>
<line x1="630.40" y1="327.07" x2="630.40" y2="331.07" stroke="#2a2a2a" stroke-width="1"/>
<text class="s" x="509.80" y="317.67" font-size="11" text-anchor="end" fill="#333" textLength="13.74" lengthAdjust="spacingAndGlyphs">10</text>
<text class="s" x="509.80" y="331.07" font-size="11" text-anchor="end" fill="#333" textLength="6.87" lengthAdjust="spacingAndGlyphs">0</text>
<text class="s" x="553.30" y="321.20" font-size="12" text-anchor="start" fill="#111" >State 2</text>
<line x1="542.40" y1="334.94" x2="542.40" y2="354.44" stroke="#c0c0c0" stroke-width="1"/>
<line x1="586.40" y1="334.94" x2="586.40" y2="354.44" stroke="#c0c0c0" stroke-width="1"/>
<line x1="630.40" y1="334.94" x2="630.40" y2="354.44" stroke="#c0c0c0" stroke-width="1"/>
<line x1="518.8" y1="338.54" x2="682.8" y2="338.54" stroke="#c0c0c0" stroke-width="1"/>
<path d="M519.40,354.44 C522.33,354.37 533.27,354.44 537.00,354.01 C540.73,353.58 540.22,352.69 541.80,351.84 C543.38,350.99 545.03,349.78 546.50,348.91 C547.97,348.04 548.67,348.90 550.60,346.64 C552.53,344.38 556.40,337.21 558.10,335.37 C559.80,334.94 559.67,334.94 560.80,335.59 C561.93,337.36 563.42,342.99 564.90,345.99 C566.38,348.99 567.78,352.16 569.70,353.57 C571.62,354.44 575.28,354.30 576.40,354.44" fill="none" stroke="#ff1a1a" stroke-width="2.2" stroke-linejoin="round" stroke-linecap="round"/>
<rect x="518.8" y="334.94" width="164.00" height="19.50" fill="none" stroke="#2a2a2a" stroke-width="1.25"/>
<line x1="514.8" y1="338.54" x2="518.8" y2="338.54" stroke="#2a2a2a" stroke-width="1"/>
<line x1="514.8" y1="354.44" x2="518.8" y2="354.44" stroke="#2a2a2a" stroke-width="1"/>
<line x1="542.40" y1="354.44" x2="542.40" y2="358.44" stroke="#2a2a2a" stroke-width="1"/>
<line x1="586.40" y1="354.44" x2="586.40" y2="358.44" stroke="#2a2a2a" stroke-width="1"/>
<line x1="630.40" y1="354.44" x2="630.40" y2="358.44" stroke="#2a2a2a" stroke-width="1"/>
<text class="s" x="509.80" y="342.54" font-size="11" text-anchor="end" fill="#333" textLength="17.17" lengthAdjust="spacingAndGlyphs">2.5</text>
<text class="s" x="509.80" y="358.44" font-size="11" text-anchor="end" fill="#333" textLength="17.17" lengthAdjust="spacingAndGlyphs">0.0</text>
<text class="s" x="577.30" y="348.70" font-size="12" text-anchor="start" fill="#111" >State 3</text>
<line x1="542.40" y1="362.31" x2="542.40" y2="381.81" stroke="#c0c0c0" stroke-width="1"/>
<line x1="586.40" y1="362.31" x2="586.40" y2="381.81" stroke="#c0c0c0" stroke-width="1"/>
<line x1="630.40" y1="362.31" x2="630.40" y2="381.81" stroke="#c0c0c0" stroke-width="1"/>
<line x1="518.8" y1="370.01" x2="682.8" y2="370.01" stroke="#c0c0c0" stroke-width="1"/>
<path d="M561.40,381.81 C565.33,381.65 579.02,381.47 585.00,380.88 C590.98,380.29 593.50,379.85 597.30,378.28 C601.10,376.71 604.45,373.79 607.80,371.44 C611.15,369.09 614.77,365.55 617.40,364.18 C620.03,362.81 621.70,362.63 623.60,363.24 C625.50,363.85 626.77,365.39 628.80,367.81 C630.83,370.23 633.17,375.50 635.80,377.76 C638.43,380.02 641.67,380.72 644.60,381.40 C647.53,381.81 651.93,381.74 653.40,381.81" fill="none" stroke="#ff1a1a" stroke-width="2.2" stroke-linejoin="round" stroke-linecap="round"/>
<rect x="518.8" y="362.31" width="164.00" height="19.50" fill="none" stroke="#2a2a2a" stroke-width="1.25"/>
<line x1="514.8" y1="370.01" x2="518.8" y2="370.01" stroke="#2a2a2a" stroke-width="1"/>
<line x1="514.8" y1="381.81" x2="518.8" y2="381.81" stroke="#2a2a2a" stroke-width="1"/>
<line x1="542.40" y1="381.81" x2="542.40" y2="385.81" stroke="#2a2a2a" stroke-width="1"/>
<line x1="586.40" y1="381.81" x2="586.40" y2="385.81" stroke="#2a2a2a" stroke-width="1"/>
<line x1="630.40" y1="381.81" x2="630.40" y2="385.81" stroke="#2a2a2a" stroke-width="1"/>
<text class="s" x="509.80" y="374.01" font-size="11" text-anchor="end" fill="#333" textLength="6.87" lengthAdjust="spacingAndGlyphs">1</text>
<text class="s" x="509.80" y="385.81" font-size="11" text-anchor="end" fill="#333" textLength="6.87" lengthAdjust="spacingAndGlyphs">0</text>
<text class="s" x="536.30" y="375.10" font-size="12" text-anchor="start" fill="#111" >State 4</text>
<line x1="542.40" y1="389.68" x2="542.40" y2="409.18" stroke="#c0c0c0" stroke-width="1"/>
<line x1="586.40" y1="389.68" x2="586.40" y2="409.18" stroke="#c0c0c0" stroke-width="1"/>
<line x1="630.40" y1="389.68" x2="630.40" y2="409.18" stroke="#c0c0c0" stroke-width="1"/>
<line x1="518.8" y1="392.48" x2="682.8" y2="392.48" stroke="#c0c0c0" stroke-width="1"/>
<path d="M602.60,409.18 C604.35,409.01 610.03,409.15 613.10,408.15 C616.17,407.15 618.82,404.42 621.00,403.20 C623.18,401.98 624.32,402.63 626.20,400.82 C628.08,399.01 630.70,394.06 632.30,392.36 C633.90,390.66 634.63,390.46 635.80,390.61 C636.97,390.76 637.25,390.73 639.30,393.29 C641.35,395.85 645.90,403.33 648.10,405.98 C650.30,408.63 650.75,408.65 652.50,409.18 C654.25,409.18 657.58,409.18 658.60,409.18" fill="none" stroke="#ff1a1a" stroke-width="2.2" stroke-linejoin="round" stroke-linecap="round"/>
<rect x="518.8" y="389.68" width="164.00" height="19.50" fill="none" stroke="#2a2a2a" stroke-width="1.25"/>
<line x1="514.8" y1="392.48" x2="518.8" y2="392.48" stroke="#2a2a2a" stroke-width="1"/>
<line x1="514.8" y1="409.18" x2="518.8" y2="409.18" stroke="#2a2a2a" stroke-width="1"/>
<line x1="542.40" y1="409.18" x2="542.40" y2="413.18" stroke="#2a2a2a" stroke-width="1"/>
<line x1="586.40" y1="409.18" x2="586.40" y2="413.18" stroke="#2a2a2a" stroke-width="1"/>
<line x1="630.40" y1="409.18" x2="630.40" y2="413.18" stroke="#2a2a2a" stroke-width="1"/>
<text class="s" x="509.80" y="396.48" font-size="11" text-anchor="end" fill="#333" textLength="6.87" lengthAdjust="spacingAndGlyphs">2</text>
<text class="s" x="509.80" y="413.18" font-size="11" text-anchor="end" fill="#333" textLength="6.87" lengthAdjust="spacingAndGlyphs">0</text>
<text class="s" x="536.30" y="402.60" font-size="12" text-anchor="start" fill="#111" >State 5</text>
<line x1="542.40" y1="417.05" x2="542.40" y2="436.55" stroke="#c0c0c0" stroke-width="1"/>
<line x1="586.40" y1="417.05" x2="586.40" y2="436.55" stroke="#c0c0c0" stroke-width="1"/>
<line x1="630.40" y1="417.05" x2="630.40" y2="436.55" stroke="#c0c0c0" stroke-width="1"/>
<line x1="518.8" y1="425.45" x2="682.8" y2="425.45" stroke="#c0c0c0" stroke-width="1"/>
<polyline points="641.40,436.33 641.60,435.69 641.80,433.91 642.00,430.22 642.20,424.72 642.40,419.34 642.60,417.05 642.80,419.34 643.00,424.72 643.20,430.22 643.40,433.91 643.60,435.69 643.80,436.33" fill="none" stroke="#ff1a1a" stroke-width="2.2" stroke-linejoin="round" stroke-linecap="round"/>
<rect x="518.8" y="417.05" width="164.00" height="19.50" fill="none" stroke="#2a2a2a" stroke-width="1.25"/>
<line x1="514.8" y1="425.45" x2="518.8" y2="425.45" stroke="#2a2a2a" stroke-width="1"/>
<line x1="514.8" y1="436.55" x2="518.8" y2="436.55" stroke="#2a2a2a" stroke-width="1"/>
<line x1="542.40" y1="436.55" x2="542.40" y2="440.55" stroke="#2a2a2a" stroke-width="1"/>
<line x1="586.40" y1="436.55" x2="586.40" y2="440.55" stroke="#2a2a2a" stroke-width="1"/>
<line x1="630.40" y1="436.55" x2="630.40" y2="440.55" stroke="#2a2a2a" stroke-width="1"/>
<text class="s" x="509.80" y="429.45" font-size="11" text-anchor="end" fill="#333" textLength="20.61" lengthAdjust="spacingAndGlyphs">100</text>
<text class="s" x="509.80" y="440.55" font-size="11" text-anchor="end" fill="#333" textLength="6.87" lengthAdjust="spacingAndGlyphs">0</text>
<text class="s" x="536.30" y="430.80" font-size="12" text-anchor="start" fill="#111" >State 6</text>
<line x1="542.40" y1="444.42" x2="542.40" y2="463.92" stroke="#c0c0c0" stroke-width="1"/>
<line x1="586.40" y1="444.42" x2="586.40" y2="463.92" stroke="#c0c0c0" stroke-width="1"/>
<line x1="630.40" y1="444.42" x2="630.40" y2="463.92" stroke="#c0c0c0" stroke-width="1"/>
<line x1="518.8" y1="452.42" x2="682.8" y2="452.42" stroke="#c0c0c0" stroke-width="1"/>
<polyline points="641.30,463.70 641.60,463.06 641.90,461.28 642.20,457.59 642.50,452.09 642.80,446.71 643.10,444.42 643.40,446.71 643.70,452.09 644.00,457.59 644.30,461.28 644.60,463.06 644.90,463.70" fill="none" stroke="#ff1a1a" stroke-width="2.2" stroke-linejoin="round" stroke-linecap="round"/>
<rect x="518.8" y="444.42" width="164.00" height="19.50" fill="none" stroke="#2a2a2a" stroke-width="1.25"/>
<line x1="514.8" y1="452.42" x2="518.8" y2="452.42" stroke="#2a2a2a" stroke-width="1"/>
<line x1="514.8" y1="463.92" x2="518.8" y2="463.92" stroke="#2a2a2a" stroke-width="1"/>
<line x1="542.40" y1="463.92" x2="542.40" y2="467.92" stroke="#2a2a2a" stroke-width="1"/>
<line x1="586.40" y1="463.92" x2="586.40" y2="467.92" stroke="#2a2a2a" stroke-width="1"/>
<line x1="630.40" y1="463.92" x2="630.40" y2="467.92" stroke="#2a2a2a" stroke-width="1"/>
<text class="s" x="509.80" y="456.42" font-size="11" text-anchor="end" fill="#333" textLength="13.74" lengthAdjust="spacingAndGlyphs">25</text>
<text class="s" x="509.80" y="467.92" font-size="11" text-anchor="end" fill="#333" textLength="6.87" lengthAdjust="spacingAndGlyphs">0</text>
<text class="s" x="536.30" y="458.00" font-size="12" text-anchor="start" fill="#111" >State 7</text>
<line x1="542.40" y1="471.79" x2="542.40" y2="491.29" stroke="#c0c0c0" stroke-width="1"/>
<line x1="586.40" y1="471.79" x2="586.40" y2="491.29" stroke="#c0c0c0" stroke-width="1"/>
<line x1="630.40" y1="471.79" x2="630.40" y2="491.29" stroke="#c0c0c0" stroke-width="1"/>
<line x1="518.8" y1="472.89" x2="682.8" y2="472.89" stroke="#c0c0c0" stroke-width="1"/>
<polyline points="642.80,491.07 642.95,490.43 643.10,488.65 643.25,484.96 643.40,479.46 643.55,474.08 643.70,471.79 643.85,474.08 644.00,479.46 644.15,484.96 644.30,488.65 644.45,490.43 644.60,491.07" fill="none" stroke="#ff1a1a" stroke-width="2.2" stroke-linejoin="round" stroke-linecap="round"/>
<rect x="518.8" y="471.79" width="164.00" height="19.50" fill="none" stroke="#2a2a2a" stroke-width="1.25"/>
<line x1="514.8" y1="472.89" x2="518.8" y2="472.89" stroke="#2a2a2a" stroke-width="1"/>
<line x1="514.8" y1="491.29" x2="518.8" y2="491.29" stroke="#2a2a2a" stroke-width="1"/>
<line x1="542.40" y1="491.29" x2="542.40" y2="495.29" stroke="#2a2a2a" stroke-width="1"/>
<line x1="586.40" y1="491.29" x2="586.40" y2="495.29" stroke="#2a2a2a" stroke-width="1"/>
<line x1="630.40" y1="491.29" x2="630.40" y2="495.29" stroke="#2a2a2a" stroke-width="1"/>
<text class="s" x="509.80" y="476.89" font-size="11" text-anchor="end" fill="#333" textLength="20.61" lengthAdjust="spacingAndGlyphs">200</text>
<text class="s" x="509.80" y="495.29" font-size="11" text-anchor="end" fill="#333" textLength="6.87" lengthAdjust="spacingAndGlyphs">0</text>
<text class="s" x="536.30" y="486.10" font-size="12" text-anchor="start" fill="#111" >State 8</text>
<line x1="542.40" y1="499.16" x2="542.40" y2="518.66" stroke="#c0c0c0" stroke-width="1"/>
<line x1="586.40" y1="499.16" x2="586.40" y2="518.66" stroke="#c0c0c0" stroke-width="1"/>
<line x1="630.40" y1="499.16" x2="630.40" y2="518.66" stroke="#c0c0c0" stroke-width="1"/>
<line x1="518.8" y1="500.66" x2="682.8" y2="500.66" stroke="#c0c0c0" stroke-width="1"/>
<polyline points="644.30,518.44 644.68,517.80 645.07,516.02 645.45,512.33 645.83,506.83 646.22,501.45 646.60,499.16 646.98,501.45 647.37,506.83 647.75,512.33 648.13,516.02 648.52,517.80 648.90,518.44" fill="none" stroke="#ff1a1a" stroke-width="2.2" stroke-linejoin="round" stroke-linecap="round"/>
<rect x="518.8" y="499.16" width="164.00" height="19.50" fill="none" stroke="#2a2a2a" stroke-width="1.25"/>
<line x1="514.8" y1="500.66" x2="518.8" y2="500.66" stroke="#2a2a2a" stroke-width="1"/>
<line x1="514.8" y1="518.66" x2="518.8" y2="518.66" stroke="#2a2a2a" stroke-width="1"/>
<line x1="542.40" y1="518.66" x2="542.40" y2="522.66" stroke="#2a2a2a" stroke-width="1"/>
<line x1="586.40" y1="518.66" x2="586.40" y2="522.66" stroke="#2a2a2a" stroke-width="1"/>
<line x1="630.40" y1="518.66" x2="630.40" y2="522.66" stroke="#2a2a2a" stroke-width="1"/>
<text class="s" x="509.80" y="504.66" font-size="11" text-anchor="end" fill="#333" textLength="13.74" lengthAdjust="spacingAndGlyphs">25</text>
<text class="s" x="509.80" y="522.66" font-size="11" text-anchor="end" fill="#333" textLength="6.87" lengthAdjust="spacingAndGlyphs">0</text>
<text class="s" x="536.30" y="513.10" font-size="12" text-anchor="start" fill="#111" >State 9</text>
<line x1="542.40" y1="526.53" x2="542.40" y2="546.03" stroke="#c0c0c0" stroke-width="1"/>
<line x1="586.40" y1="526.53" x2="586.40" y2="546.03" stroke="#c0c0c0" stroke-width="1"/>
<line x1="630.40" y1="526.53" x2="630.40" y2="546.03" stroke="#c0c0c0" stroke-width="1"/>
<line x1="518.8" y1="529.73" x2="682.8" y2="529.73" stroke="#c0c0c0" stroke-width="1"/>
<polyline points="646.00,545.81 646.77,545.17 647.53,543.39 648.30,539.70 649.07,534.20 649.83,528.82 650.60,526.53 651.37,528.82 652.13,534.20 652.90,539.70 653.67,543.39 654.43,545.17 655.20,545.81" fill="none" stroke="#ff1a1a" stroke-width="2.2" stroke-linejoin="round" stroke-linecap="round"/>
<rect x="518.8" y="526.53" width="164.00" height="19.50" fill="none" stroke="#2a2a2a" stroke-width="1.25"/>
<line x1="514.8" y1="529.73" x2="518.8" y2="529.73" stroke="#2a2a2a" stroke-width="1"/>
<line x1="514.8" y1="546.03" x2="518.8" y2="546.03" stroke="#2a2a2a" stroke-width="1"/>
<line x1="542.40" y1="546.03" x2="542.40" y2="550.03" stroke="#2a2a2a" stroke-width="1"/>
<line x1="586.40" y1="546.03" x2="586.40" y2="550.03" stroke="#2a2a2a" stroke-width="1"/>
<line x1="630.40" y1="546.03" x2="630.40" y2="550.03" stroke="#2a2a2a" stroke-width="1"/>
<text class="s" x="509.80" y="533.73" font-size="11" text-anchor="end" fill="#333" textLength="13.74" lengthAdjust="spacingAndGlyphs">10</text>
<text class="s" x="509.80" y="550.03" font-size="11" text-anchor="end" fill="#333" textLength="6.87" lengthAdjust="spacingAndGlyphs">0</text>
<text class="s" x="534.80" y="540.90" font-size="12" text-anchor="start" fill="#111" >State 10</text>
<text x="529.60" y="566.3" font-size="15.5" fill="#222"><tspan textLength="17.8" lengthAdjust="spacingAndGlyphs">10</tspan><tspan font-size="11" dx="1" dy="-6">5</tspan></text>
<text x="573.60" y="566.3" font-size="15.5" fill="#222"><tspan textLength="17.8" lengthAdjust="spacingAndGlyphs">10</tspan><tspan font-size="11" dx="1" dy="-6">6</tspan></text>
<text x="617.60" y="566.3" font-size="15.5" fill="#222"><tspan textLength="17.8" lengthAdjust="spacingAndGlyphs">10</tspan><tspan font-size="11" dx="1" dy="-6">7</tspan></text>
<rect x="522.9" y="256.8" width="158.10" height="19.70" rx="3.2" ry="3.2" fill="#fff" stroke="#505050" stroke-width="1" stroke-dasharray="2,1"/>
<text class="s" x="537.00" y="272.20" font-size="12" text-anchor="start" fill="#111" textLength="111.6" lengthAdjust="spacingAndGlyphs">Temperature = 12 K</text>
<text x="492.30" y="255.80" font-size="16" text-anchor="start" fill="#222" >f)</text>
<text transform="translate(482.2,403.4) rotate(-90)" class="s" font-size="12.5" text-anchor="middle" fill="#222">Probability Density (a.u)</text>
<text class="s" y="583.7" font-size="13" fill="#222"><tspan x="549.70" font-style="italic">R</tspan><tspan x="558.70" font-style="italic" font-size="9.5" dy="2.3" textLength="25.5" lengthAdjust="spacingAndGlyphs">eNVM</tspan><tspan x="588.90" dy="-2.3" textLength="63.6" lengthAdjust="spacingAndGlyphs">@0.1V (Ω)</tspan></text>
</svg>
</body></html>
